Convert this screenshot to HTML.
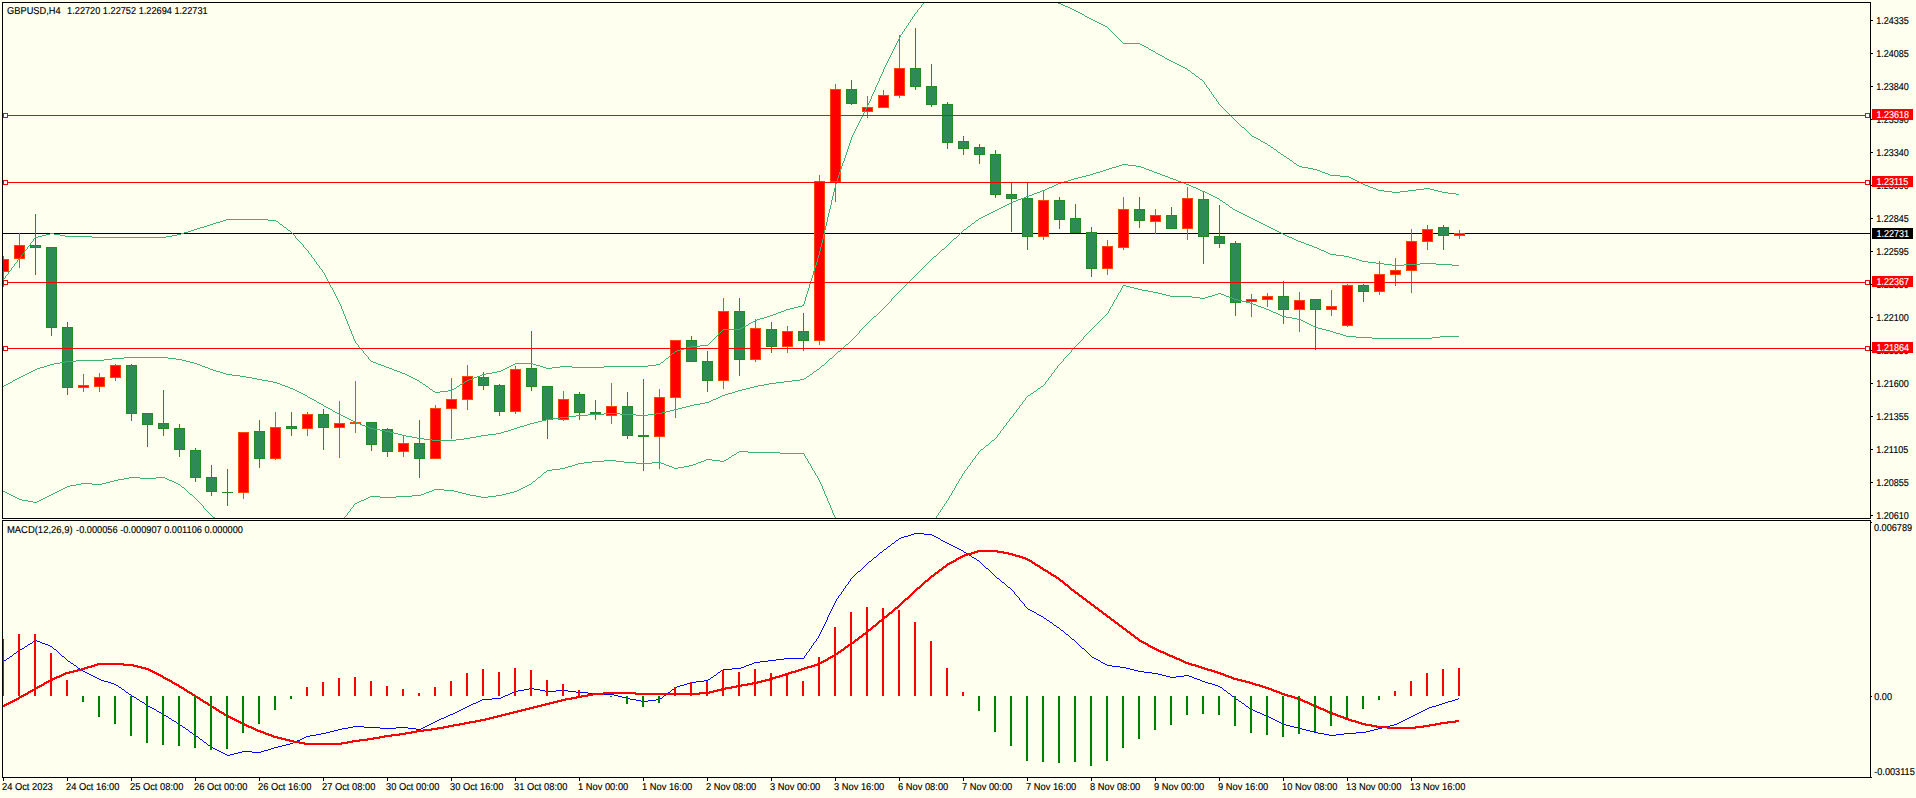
<!DOCTYPE html>
<html lang="en"><head><meta charset="utf-8"><title>GBPUSD,H4</title>
<style>
html,body{margin:0;padding:0;background:#FFFFF0;overflow:hidden}
svg{display:block}
text{font-family:"Liberation Sans",sans-serif;font-size:10px;fill:#000;stroke:#000;stroke-width:0.15px;text-rendering:geometricPrecision}
.w{fill:#fff;stroke:#fff}
</style></head><body>
<svg width="1916" height="798" viewBox="0 0 1916 798" shape-rendering="crispEdges">
<rect width="1916" height="798" fill="#FFFFF0"/>
<defs><clipPath id="cm"><rect x="3" y="3" width="1867" height="515"/></clipPath><clipPath id="cd"><rect x="3" y="521" width="1867" height="256"/></clipPath></defs>
<path fill="#000" d="M2 2h1869v1h-1869zM2 518h1869v1h-1869zM2 2h1v517h-1zM1870 2h1v517h-1zM2 520h1869v1h-1869zM2 777h1869v1h-1869zM2 520h1v258h-1zM1870 520h1v258h-1zM1871 20h2v1h-2zM1871 53h2v1h-2zM1871 86h2v1h-2zM1871 119h2v1h-2zM1871 152h2v1h-2zM1871 185h2v1h-2zM1871 218h2v1h-2zM1871 251h2v1h-2zM1871 284h2v1h-2zM1871 317h2v1h-2zM1871 350h2v1h-2zM1871 383h2v1h-2zM1871 416h2v1h-2zM1871 449h2v1h-2zM1871 482h2v1h-2zM1871 515h2v1h-2zM1871 522h1v1h-1zM1871 696h1v1h-1zM1871 777h1v1h-1zM3 778h1v3h-1zM67 778h1v3h-1zM131 778h1v3h-1zM195 778h1v3h-1zM259 778h1v3h-1zM323 778h1v3h-1zM387 778h1v3h-1zM451 778h1v3h-1zM515 778h1v3h-1zM579 778h1v3h-1zM643 778h1v3h-1zM707 778h1v3h-1zM771 778h1v3h-1zM835 778h1v3h-1zM899 778h1v3h-1zM963 778h1v3h-1zM1027 778h1v3h-1zM1091 778h1v3h-1zM1155 778h1v3h-1zM1219 778h1v3h-1zM1283 778h1v3h-1zM1347 778h1v3h-1zM1411 778h1v3h-1z"/>
<g clip-path="url(#cm)">
<path fill="#000" d="M3 233h1867v1h-1867z"/>
<path fill="#FF4500" d="M3 256h1v31h-1zM-2 259h11v13h-11zM19 233h1v35h-1zM14 245h11v14h-11zM83 374h1v18h-1zM78 385h11v3h-11zM99 373h1v19h-1zM94 377h11v10h-11zM115 364h1v17h-1zM110 365h11v13h-11zM243 432h1v67h-1zM238 432h11v61h-11zM275 412h1v48h-1zM270 427h11v32h-11zM307 412h1v24h-1zM302 414h11v15h-11zM339 401h1v57h-1zM334 423h11v5h-11zM355 381h1v52h-1zM350 422h11v2h-11zM403 436h1v21h-1zM398 443h11v9h-11zM435 405h1v54h-1zM430 408h11v51h-11zM451 378h1v61h-1zM446 399h11v10h-11zM467 365h1v45h-1zM462 376h11v24h-11zM515 366h1v48h-1zM510 369h11v43h-11zM563 391h1v30h-1zM558 399h11v21h-11zM611 383h1v41h-1zM606 406h11v10h-11zM659 389h1v80h-1zM654 397h11v40h-11zM675 340h1v78h-1zM670 340h11v58h-11zM723 298h1v91h-1zM718 311h11v70h-11zM755 319h1v43h-1zM750 328h11v32h-11zM787 326h1v27h-1zM782 331h11v16h-11zM819 175h1v170h-1zM814 181h11v160h-11zM835 84h1v118h-1zM830 89h11v93h-11zM867 96h1v22h-1zM862 107h11v5h-11zM883 90h1v18h-1zM878 95h11v13h-11zM899 35h1v63h-1zM894 68h11v28h-11zM1043 191h1v49h-1zM1038 200h11v37h-11zM1107 240h1v35h-1zM1102 246h11v23h-11zM1123 197h1v53h-1zM1118 209h11v39h-11zM1155 209h1v25h-1zM1150 215h11v7h-11zM1187 187h1v53h-1zM1182 198h11v31h-11zM1251 294h1v23h-1zM1246 299h11v3h-11zM1267 293h1v14h-1zM1262 296h11v4h-11zM1299 292h1v40h-1zM1294 300h11v10h-11zM1331 290h1v26h-1zM1326 306h11v4h-11zM1347 284h1v43h-1zM1342 285h11v41h-11zM1379 261h1v34h-1zM1374 274h11v18h-11zM1395 258h1v28h-1zM1390 270h11v5h-11zM1411 229h1v64h-1zM1406 241h11v30h-11zM1427 225h1v25h-1zM1422 229h11v13h-11zM1459 230h1v9h-1zM1454 233h11v3h-11z"/>
<path fill="#FF0000" d="M-1 260h9v11h-9zM15 246h9v12h-9zM79 386h9v1h-9zM95 378h9v8h-9zM111 366h9v11h-9zM239 433h9v59h-9zM271 428h9v30h-9zM303 415h9v13h-9zM335 424h9v3h-9zM399 444h9v7h-9zM431 409h9v49h-9zM447 400h9v8h-9zM463 377h9v22h-9zM511 370h9v41h-9zM559 400h9v19h-9zM607 407h9v8h-9zM655 398h9v38h-9zM671 341h9v56h-9zM719 312h9v68h-9zM751 329h9v30h-9zM783 332h9v14h-9zM815 182h9v158h-9zM831 90h9v91h-9zM863 108h9v3h-9zM879 96h9v11h-9zM895 69h9v26h-9zM1039 201h9v35h-9zM1103 247h9v21h-9zM1119 210h9v37h-9zM1151 216h9v5h-9zM1183 199h9v29h-9zM1247 300h9v1h-9zM1263 297h9v2h-9zM1295 301h9v8h-9zM1327 307h9v2h-9zM1343 286h9v39h-9zM1375 275h9v16h-9zM1391 271h9v3h-9zM1407 242h9v28h-9zM1423 230h9v11h-9zM1455 234h9v1h-9z"/>
<path fill="#228B22" d="M35 214h1v61h-1zM30 245h11v3h-11zM51 247h1v89h-1zM46 247h11v81h-11zM67 322h1v73h-1zM62 327h11v61h-11zM131 364h1v57h-1zM126 365h11v49h-11zM147 413h1v34h-1zM142 413h11v12h-11zM163 390h1v46h-1zM158 423h11v6h-11zM179 424h1v33h-1zM174 428h11v22h-11zM195 448h1v34h-1zM190 450h11v28h-11zM211 465h1v31h-1zM206 477h11v15h-11zM227 469h1v37h-1zM222 492h11v1h-11zM259 420h1v48h-1zM254 431h11v28h-11zM291 412h1v24h-1zM286 426h11v3h-11zM323 409h1v41h-1zM318 414h11v14h-11zM371 422h1v29h-1zM366 422h11v23h-11zM387 428h1v29h-1zM382 429h11v23h-11zM419 420h1v58h-1zM414 443h11v16h-11zM483 372h1v18h-1zM478 377h11v9h-11zM499 384h1v32h-1zM494 385h11v27h-11zM531 331h1v60h-1zM526 368h11v19h-11zM547 386h1v53h-1zM542 386h11v34h-11zM579 392h1v28h-1zM574 394h11v19h-11zM595 400h1v20h-1zM590 412h11v2h-11zM627 392h1v47h-1zM622 406h11v30h-11zM643 379h1v92h-1zM638 435h11v2h-11zM691 336h1v26h-1zM686 340h11v22h-11zM707 351h1v41h-1zM702 361h11v20h-11zM739 298h1v78h-1zM734 311h11v49h-11zM771 322h1v31h-1zM766 329h11v18h-11zM803 313h1v38h-1zM798 331h11v10h-11zM851 80h1v25h-1zM846 89h11v15h-11zM915 28h1v62h-1zM910 68h11v19h-11zM931 64h1v43h-1zM926 86h11v19h-11zM947 102h1v47h-1zM942 104h11v39h-11zM963 136h1v19h-1zM958 141h11v8h-11zM979 144h1v20h-1zM974 147h11v8h-11zM995 150h1v48h-1zM990 154h11v41h-11zM1011 183h1v49h-1zM1006 194h11v5h-11zM1027 183h1v67h-1zM1022 198h11v39h-11zM1059 197h1v32h-1zM1054 200h11v20h-11zM1075 204h1v29h-1zM1070 218h11v15h-11zM1091 227h1v50h-1zM1086 232h11v37h-11zM1139 197h1v31h-1zM1134 209h11v12h-11zM1171 207h1v22h-1zM1166 215h11v14h-11zM1203 192h1v72h-1zM1198 199h11v38h-11zM1219 205h1v43h-1zM1214 236h11v8h-11zM1235 241h1v75h-1zM1230 243h11v60h-11zM1283 281h1v43h-1zM1278 296h11v14h-11zM1315 299h1v51h-1zM1310 299h11v11h-11zM1363 284h1v18h-1zM1358 285h11v7h-11zM1443 225h1v25h-1zM1438 227h11v9h-11z"/>
<path fill="#2E8B57" d="M31 246h9v1h-9zM47 248h9v79h-9zM63 328h9v59h-9zM127 366h9v47h-9zM143 414h9v10h-9zM159 424h9v4h-9zM175 429h9v20h-9zM191 451h9v26h-9zM207 478h9v13h-9zM255 432h9v26h-9zM287 427h9v1h-9zM319 415h9v12h-9zM367 423h9v21h-9zM383 430h9v21h-9zM415 444h9v14h-9zM479 378h9v7h-9zM495 386h9v25h-9zM527 369h9v17h-9zM543 387h9v32h-9zM575 395h9v17h-9zM623 407h9v28h-9zM687 341h9v20h-9zM703 362h9v18h-9zM735 312h9v47h-9zM767 330h9v16h-9zM799 332h9v8h-9zM847 90h9v13h-9zM911 69h9v17h-9zM927 87h9v17h-9zM943 105h9v37h-9zM959 142h9v6h-9zM975 148h9v6h-9zM991 155h9v39h-9zM1007 195h9v3h-9zM1023 199h9v37h-9zM1055 201h9v18h-9zM1071 219h9v13h-9zM1087 233h9v35h-9zM1135 210h9v10h-9zM1167 216h9v12h-9zM1199 200h9v36h-9zM1215 237h9v6h-9zM1231 244h9v58h-9zM1279 297h9v12h-9zM1311 300h9v9h-9zM1359 286h9v5h-9zM1439 228h9v7h-9z"/>
<path fill="#3CB371" d="M342 309h1v2h-1zM786 309h4v1h-4zM366 355h1v1h-1zM670 355h1v1h-1zM358 345h1v2h-1zM690 346h10v1h-10zM863 113h1v2h-1zM1229 114h1v1h-1zM875 87h1v3h-1zM1208 88h1v1h-1zM887 61h1v2h-1zM1173 62h2v1h-2zM23 253h1v1h-1zM309 253h1v1h-1zM819 251h1v4h-1zM433 391h2v1h-2zM440 391h8v1h-8zM841 166h1v3h-1zM1302 167h6v1h-6zM834 188h1v4h-1zM1376 189h2v1h-2zM1416 189h8v1h-8zM1430 189h4v1h-4zM435 392h5v1h-5zM429 388h1v1h-1zM454 388h2v1h-2zM210 224h3v1h-3zM280 224h2v1h-2zM826 222h1v4h-1zM18 259h1v1h-1zM314 259h1v2h-1zM817 258h1v4h-1zM911 19h1v1h-1zM1091 19h2v1h-2zM420 382h2v1h-2zM464 382h1v1h-1zM386 367h3v1h-3zM507 367h2v1h-2zM543 367h3v1h-3zM552 367h8v1h-8zM572 367h32v1h-32zM348 324h1v2h-1zM746 325h2v1h-2zM844 158h1v3h-1zM1290 160h2v1h-2zM207 225h3v1h-3zM282 225h1v1h-1zM343 311h1v3h-1zM778 312h3v1h-3zM874 90h1v2h-1zM1209 89h1v2h-1zM46 234h4v1h-4zM54 234h6v1h-6zM177 234h4v1h-4zM293 234h1v1h-1zM823 234h1v5h-1zM837 178h1v3h-1zM1353 179h2v1h-2zM921 5h1v2h-1zM1065 6h3v1h-3zM1384 191h8v1h-8zM1400 191h8v1h-8zM1438 191h4v1h-4zM882 72h1v2h-1zM1191 72h1v1h-1zM223 220h3v1h-3zM268 220h8v1h-8zM827 217h1v5h-1zM850 140h1v3h-1zM1263 142h2v1h-2zM845 155h1v3h-1zM1283 155h1v1h-1zM835 184h1v4h-1zM1363 184h2v1h-2zM1355 180h2v1h-2zM376 363h2v1h-2zM515 363h18v1h-18zM660 363h1v1h-1zM860 119h1v2h-1zM1234 119h1v1h-1zM838 175h1v3h-1zM1340 176h9v1h-9zM871 96h1v3h-1zM1213 95h1v2h-1zM923 3h1v1h-1zM1058 3h3v1h-3zM28 246h1v1h-1zM303 245h1v2h-1zM821 243h1v4h-1zM849 143h1v3h-1zM1265 143h2v1h-2zM25 250h1v1h-1zM307 250h1v1h-1zM820 247h1v4h-1zM1235 120h1v1h-1zM226 219h42v1h-42zM907 25h1v1h-1zM1103 25h2v1h-2zM896 43h1v2h-1zM1123 43h17v1h-17zM902 32h1v2h-1zM1112 32h1v1h-1zM384 366h2v1h-2zM509 366h2v1h-2zM540 366h3v1h-3zM560 366h12v1h-12zM604 366h44v1h-44zM332 288h1v2h-1zM808 288h1v3h-1zM50 233h4v1h-4zM181 233h3v1h-3zM292 233h1v1h-1zM824 230h1v4h-1zM898 39h1v2h-1zM1119 39h1v1h-1zM862 115h1v2h-1zM1231 116h1v1h-1zM781 311h3v1h-3zM905 28h1v1h-1zM1108 28h1v1h-1zM200 227h4v1h-4zM284 227h2v1h-2zM825 226h1v4h-1zM886 63h1v2h-1zM1177 64h2v1h-2zM419 381h1v1h-1zM465 381h2v1h-2zM38 236h4v1h-4zM65 236h27v1h-27zM166 236h6v1h-6zM295 236h1v2h-1zM846 152h1v3h-1zM1278 152h2v1h-2zM425 385h1v1h-1zM459 385h1v1h-1zM842 163h1v3h-1zM1297 165h2v1h-2zM220 221h3v1h-3zM276 221h2v1h-2zM858 123h1v2h-1zM1238 123h1v1h-1zM347 321h1v3h-1zM751 322h2v1h-2zM216 222h4v1h-4zM278 222h1v1h-1zM22 254h1v1h-1zM310 254h1v1h-1zM833 192h1v4h-1zM1456 194h3v1h-3zM35 237h3v1h-3zM92 237h74v1h-74zM828 213h1v4h-1zM21 255h1v2h-1zM311 255h1v2h-1zM818 255h1v3h-1zM402 373h3v1h-3zM486 373h6v1h-6zM17 260h1v2h-1zM345 316h1v3h-1zM764 317h3v1h-3zM353 336h1v3h-1zM715 337h1v1h-1zM852 135h1v2h-1zM1252 136h2v1h-2zM6 275h1v1h-1zM325 275h1v2h-1zM812 275h1v3h-1zM368 357h1v2h-1zM666 358h2v1h-2zM839 172h1v3h-1zM1322 172h3v1h-3zM1308 168h5v1h-5zM840 169h1v3h-1zM1313 169h4v1h-4zM333 290h1v2h-1zM807 291h1v3h-1zM873 92h1v2h-1zM1211 92h1v2h-1zM394 370h3v1h-3zM501 370h2v1h-2zM897 41h1v2h-1zM1121 41h1v1h-1zM910 20h1v2h-1zM1095 21h2v1h-2zM411 377h2v1h-2zM474 377h3v1h-3zM885 65h1v2h-1zM1181 66h2v1h-2zM1299 166h3v1h-3zM847 149h1v3h-1zM1274 149h2v1h-2zM843 161h1v2h-1zM1293 162h1v1h-1zM413 378h2v1h-2zM472 378h2v1h-2zM405 374h2v1h-2zM482 374h4v1h-4zM881 74h1v2h-1zM1194 74h1v1h-1zM857 125h1v2h-1zM1240 125h1v1h-1zM361 349h1v1h-1zM680 349h4v1h-4zM854 131h1v2h-1zM1248 132h1v1h-1zM350 329h1v2h-1zM723 329h17v1h-17zM191 230h3v1h-3zM288 230h2v1h-2zM859 121h1v2h-1zM1237 122h1v1h-1zM3 279h1v1h-1zM327 279h1v2h-1zM811 278h1v3h-1zM1325 173h3v1h-3zM1320 171h2v1h-2zM337 298h1v2h-1zM805 297h1v4h-1zM397 371h3v1h-3zM497 371h4v1h-4zM1277 151h1v1h-1zM913 16h1v1h-1zM1085 16h2v1h-2zM836 181h1v3h-1zM1359 182h2v1h-2zM1268 145h2v1h-2zM1287 158h2v1h-2zM20 257h1v1h-1zM312 257h1v1h-1zM848 146h1v3h-1zM1270 146h1v1h-1zM1289 159h1v1h-1zM19 258h1v1h-1zM313 258h1v1h-1zM1261 141h2v1h-2zM356 343h1v1h-1zM709 343h1v1h-1zM328 281h1v2h-1zM810 281h1v3h-1zM700 345h8v1h-8zM1251 135h1v1h-1zM1378 190h6v1h-6zM1408 190h8v1h-8zM1434 190h4v1h-4zM370 360h1v1h-1zM664 360h1v1h-1zM8 272h1v2h-1zM324 273h1v2h-1zM813 271h1v4h-1zM341 306h1v3h-1zM790 308h4v1h-4zM889 57h1v2h-1zM1165 58h2v1h-2zM338 300h1v2h-1zM381 365h3v1h-3zM511 365h2v1h-2zM536 365h4v1h-4zM648 365h8v1h-8zM371 361h2v1h-2zM663 361h1v1h-1zM716 336h1v1h-1zM912 17h1v2h-1zM1089 18h2v1h-2zM872 94h1v2h-1zM29 245h1v1h-1zM851 137h1v3h-1zM1256 138h2v1h-2zM354 339h1v2h-1zM713 339h1v1h-1zM869 101h1v2h-1zM1217 101h1v1h-1zM1365 185h3v1h-3zM1448 193h8v1h-8zM853 133h1v2h-1zM1250 134h1v1h-1zM11 268h1v2h-1zM320 268h1v1h-1zM814 268h1v3h-1zM1292 161h1v1h-1zM329 283h1v2h-1zM809 284h1v4h-1zM903 31h1v1h-1zM1111 31h1v1h-1zM432 390h1v1h-1zM448 390h4v1h-4zM213 223h3v1h-3zM279 223h1v1h-1zM908 23h1v2h-1zM1101 24h2v1h-2zM351 331h1v3h-1zM720 332h1v1h-1zM197 228h3v1h-3zM286 228h1v1h-1zM1271 147h2v1h-2zM409 376h2v1h-2zM477 376h3v1h-3zM188 231h3v1h-3zM290 231h1v1h-1zM323 272h1v1h-1zM1179 65h2v1h-2zM1171 61h2v1h-2zM1330 175h10v1h-10zM336 296h1v2h-1zM806 294h1v3h-1zM42 235h4v1h-4zM60 235h5v1h-5zM172 235h5v1h-5zM294 235h1v1h-1zM776 313h2v1h-2zM1215 98h1v1h-1zM877 83h1v2h-1zM1205 84h1v1h-1zM378 364h3v1h-3zM513 364h2v1h-2zM533 364h3v1h-3zM656 364h4v1h-4zM922 4h1v1h-1zM1061 4h2v1h-2zM894 47h1v2h-1zM1148 48h1v1h-1zM1267 144h1v1h-1zM868 103h1v2h-1zM1219 104h1v1h-1zM870 99h1v2h-1zM1216 99h1v2h-1zM1192 73h2v1h-2zM4 278h1v1h-1zM326 277h1v2h-1zM1392 192h8v1h-8zM1442 192h6v1h-6zM712 340h1v1h-1zM1317 170h3v1h-3zM904 29h1v2h-1zM1110 30h1v1h-1zM16 262h1v1h-1zM316 262h1v2h-1zM816 262h1v3h-1zM1281 154h2v1h-2zM33 239h1v2h-1zM297 239h1v1h-1zM822 239h1v4h-1zM362 350h1v1h-1zM677 350h3v1h-3zM1218 102h1v2h-1zM856 127h1v2h-1zM1244 128h1v1h-1zM1254 137h2v1h-2zM893 49h1v2h-1zM1151 50h2v1h-2zM13 266h1v1h-1zM319 266h1v2h-1zM815 265h1v3h-1zM389 368h3v1h-3zM505 368h2v1h-2zM546 368h6v1h-6zM865 109h1v2h-1zM1224 109h1v1h-1zM1204 82h1v2h-1zM1164 57h1v1h-1zM24 251h1v2h-1zM308 251h1v2h-1zM832 196h1v4h-1zM917 10h1v2h-1zM1076 11h2v1h-2zM878 81h1v2h-1zM1203 81h1v1h-1zM784 310h2v1h-2zM1087 17h2v1h-2zM1099 23h2v1h-2zM884 67h1v2h-1zM1183 67h2v1h-2zM415 379h2v1h-2zM469 379h3v1h-3zM1207 87h1v1h-1zM1185 68h2v1h-2zM888 59h1v2h-1zM1169 60h2v1h-2zM1296 164h1v1h-1zM400 372h2v1h-2zM492 372h5v1h-5zM349 326h1v3h-1zM744 326h2v1h-2zM392 369h2v1h-2zM503 369h2v1h-2zM890 55h1v2h-1zM1162 56h2v1h-2zM355 341h1v2h-1zM710 342h1v1h-1zM892 51h1v2h-1zM1155 52h1v1h-1zM365 354h1v1h-1zM671 354h1v1h-1zM1328 174h2v1h-2zM864 111h1v2h-1zM1226 111h1v1h-1zM876 85h1v2h-1zM1206 85h1v2h-1zM1167 59h2v1h-2zM1093 20h2v1h-2zM1113 33h1v1h-1zM880 76h1v2h-1zM1198 77h1v1h-1zM879 78h1v3h-1zM1199 78h1v1h-1zM9 271h1v1h-1zM322 270h1v2h-1zM916 12h1v1h-1zM1078 12h2v1h-2zM1273 148h1v1h-1zM855 129h1v2h-1zM1246 130h1v1h-1zM1370 187h3v1h-3zM1247 131h1v1h-1zM364 353h1v1h-1zM672 353h2v1h-2zM760 318h4v1h-4zM373 362h3v1h-3zM661 362h2v1h-2zM1210 91h1v1h-1zM719 333h1v1h-1zM359 347h1v1h-1zM687 347h3v1h-3zM830 205h1v4h-1zM31 242h1v1h-1zM300 242h1v1h-1zM1239 124h1v1h-1zM749 323h2v1h-2zM1357 181h2v1h-2zM1349 177h2v1h-2zM1260 140h1v1h-1zM1351 178h2v1h-2zM1242 127h2v1h-2zM357 344h1v1h-1zM708 344h1v1h-1zM334 292h1v2h-1zM753 321h2v1h-2zM1200 79h2v1h-2zM883 69h1v3h-1zM1190 71h1v1h-1zM1241 126h1v1h-1zM1280 153h1v1h-1zM1175 63h2v1h-2zM798 306h4v1h-4zM1249 133h1v1h-1zM1074 10h2v1h-2zM906 26h1v2h-1zM1107 27h1v1h-1zM914 14h1v2h-1zM1084 15h1v1h-1zM1196 76h2v1h-2zM315 261h1v1h-1zM714 338h1v1h-1zM344 314h1v2h-1zM770 315h3v1h-3zM1153 51h2v1h-2zM1373 188h3v1h-3zM1424 188h6v1h-6zM804 301h1v3h-1zM721 331h1v1h-1zM335 294h1v2h-1zM5 276h1v2h-1zM861 117h1v2h-1zM1232 117h1v1h-1zM204 226h3v1h-3zM283 226h1v1h-1zM742 327h2v1h-2zM773 314h3v1h-3zM1284 156h2v1h-2zM1368 186h2v1h-2zM423 384h2v1h-2zM460 384h2v1h-2zM1258 139h2v1h-2zM740 328h2v1h-2zM321 269h1v1h-1zM895 45h1v2h-1zM1142 45h2v1h-2zM407 375h2v1h-2zM480 375h2v1h-2zM330 285h1v2h-1zM1109 29h1v1h-1zM900 35h1v2h-1zM1115 35h1v1h-1zM831 200h1v5h-1zM1212 94h1v1h-1zM1187 69h1v1h-1zM27 247h1v2h-1zM305 248h1v1h-1zM12 267h1v1h-1zM1105 26h2v1h-2zM909 22h1v1h-1zM1097 22h2v1h-2zM899 37h1v2h-1zM1117 37h1v1h-1zM34 238h1v1h-1zM296 238h1v1h-1zM1202 80h1v1h-1zM1294 163h2v1h-2zM1188 70h2v1h-2zM722 330h1v1h-1zM1160 55h2v1h-2zM794 307h4v1h-4zM15 263h1v1h-1zM915 13h1v1h-1zM1080 13h2v1h-2zM298 240h1v1h-1zM14 264h1v2h-1zM317 264h1v1h-1zM318 265h1v1h-1zM1063 5h2v1h-2zM1149 49h2v1h-2zM1225 110h1v1h-1zM1140 44h2v1h-2zM1118 38h1v1h-1zM767 316h3v1h-3zM194 229h3v1h-3zM287 229h1v1h-1zM32 241h1v1h-1zM299 241h1v1h-1zM184 232h4v1h-4zM291 232h1v1h-1zM1227 112h1v1h-1zM352 334h1v2h-1zM717 335h1v1h-1zM891 53h1v2h-1zM1158 54h2v1h-2zM331 287h1v1h-1zM417 380h2v1h-2zM467 380h2v1h-2zM1082 14h2v1h-2zM1120 40h1v1h-1zM1236 121h1v1h-1zM1195 75h1v1h-1zM867 105h1v2h-1zM1220 105h1v1h-1zM920 7h1v1h-1zM1068 7h2v1h-2zM428 387h1v1h-1zM456 387h1v1h-1zM1146 47h2v1h-2zM430 389h2v1h-2zM452 389h2v1h-2zM340 304h1v2h-1zM802 305h2v1h-2zM829 209h1v4h-1zM10 270h1v1h-1zM1156 53h2v1h-2zM422 383h1v1h-1zM462 383h2v1h-2zM866 107h1v2h-1zM1222 107h1v1h-1zM1223 108h1v1h-1zM360 348h1v1h-1zM684 348h3v1h-3zM901 34h1v1h-1zM1114 34h1v1h-1zM668 357h1v1h-1zM339 302h1v2h-1zM1233 118h1v1h-1zM918 9h1v1h-1zM1072 9h2v1h-2zM346 319h1v2h-1zM757 319h3v1h-3zM718 334h1v1h-1zM1116 36h1v1h-1zM30 243h1v2h-1zM301 243h1v1h-1zM7 274h1v1h-1zM363 351h1v2h-1zM674 352h1v1h-1zM803 304h1v1h-1zM1214 97h1v1h-1zM1122 42h1v1h-1zM919 8h1v1h-1zM1070 8h2v1h-2zM304 247h1v1h-1zM367 356h1v1h-1zM669 356h1v1h-1zM1361 183h2v1h-2zM1245 129h1v1h-1zM1144 46h2v1h-2zM748 324h1v1h-1zM675 351h2v1h-2zM1221 106h1v1h-1zM755 320h2v1h-2zM1228 113h1v1h-1zM26 249h1v1h-1zM306 249h1v1h-1zM369 359h1v1h-1zM665 359h1v1h-1zM1286 157h1v1h-1zM1230 115h1v1h-1zM302 244h1v1h-1zM426 386h2v1h-2zM457 386h2v1h-2zM1276 150h1v1h-1zM711 341h1v1h-1z"/>
<path fill="#3CB371" d="M362 425h3v1h-3zM524 425h3v1h-3zM324 406h2v1h-2zM686 406h4v1h-4zM124 357h44v1h-44zM832 357h1v1h-1zM1112 167h4v1h-4zM1141 167h3v1h-3zM339 414h2v1h-2zM588 414h16v1h-16zM620 414h16v1h-16zM648 414h8v1h-8zM337 413h2v1h-2zM604 413h16v1h-16zM656 413h6v1h-6zM432 440h24v1h-24zM877 314h1v1h-1zM1021 198h3v1h-3zM1217 198h2v1h-2zM1096 172h4v1h-4zM1154 172h3v1h-3zM1032 194h2v1h-2zM1209 194h2v1h-2zM65 361h11v1h-11zM186 361h4v1h-4zM827 361h1v1h-1zM330 409h2v1h-2zM674 409h4v1h-4zM1040 191h2v1h-2zM1202 191h3v1h-3zM972 223h2v1h-2zM1261 223h2v1h-2zM319 403h2v1h-2zM700 403h5v1h-5zM76 360h28v1h-28zM182 360h4v1h-4zM828 360h1v1h-1zM6 384h2v1h-2zM280 384h2v1h-2zM764 384h5v1h-5zM390 432h4v1h-4zM501 432h3v1h-3zM335 412h2v1h-2zM662 412h4v1h-4zM1082 176h4v1h-4zM1165 176h3v1h-3zM374 429h6v1h-6zM511 429h3v1h-3zM946 246h1v1h-1zM1312 246h2v1h-2zM3 386h1v1h-1zM285 386h3v1h-3zM754 386h4v1h-4zM29 372h2v1h-2zM220 372h3v1h-3zM813 372h1v1h-1zM365 426h3v1h-3zM520 426h4v1h-4zM323 405h1v1h-1zM690 405h4v1h-4zM343 416h2v1h-2zM568 416h8v1h-8zM10 382h2v1h-2zM273 382h4v1h-4zM776 382h8v1h-8zM884 307h1v1h-1zM385 431h5v1h-5zM504 431h4v1h-4zM925 265h1v1h-1zM1392 265h12v1h-12zM1452 265h7v1h-7zM1071 179h3v1h-3zM1173 179h3v1h-3zM927 263h1v1h-1zM1376 263h8v1h-8zM1420 263h16v1h-16zM937 254h1v1h-1zM1330 254h6v1h-6zM991 212h2v1h-2zM1239 212h2v1h-2zM999 208h2v1h-2zM1232 208h1v1h-1zM50 364h4v1h-4zM197 364h3v1h-3zM824 364h1v1h-1zM981 217h2v1h-2zM1249 217h2v1h-2zM837 352h1v1h-1zM398 434h4v1h-4zM488 434h8v1h-8zM293 389h2v1h-2zM742 389h4v1h-4zM1061 182h3v1h-3zM1181 182h3v1h-3zM402 435h4v1h-4zM481 435h7v1h-7zM25 374h2v1h-2zM226 374h6v1h-6zM810 374h2v1h-2zM953 239h1v1h-1zM1294 239h2v1h-2zM8 383h2v1h-2zM277 383h3v1h-3zM769 383h7v1h-7zM1029 195h3v1h-3zM1211 195h2v1h-2zM310 398h2v1h-2zM716 398h2v1h-2zM891 299h1v2h-1zM299 392h2v1h-2zM732 392h3v1h-3zM44 366h3v1h-3zM202 366h3v1h-3zM821 366h1v1h-1zM844 346h1v1h-1zM13 380h2v1h-2zM262 380h6v1h-6zM792 380h8v1h-8zM1078 177h4v1h-4zM1168 177h2v1h-2zM936 255h1v1h-1zM1336 255h8v1h-8zM307 396h1v1h-1zM720 396h2v1h-2zM1007 204h2v1h-2zM1226 204h2v1h-2zM1005 205h2v1h-2zM1228 205h1v1h-1zM1116 166h3v1h-3zM1136 166h5v1h-5zM60 362h5v1h-5zM190 362h4v1h-4zM826 362h1v1h-1zM312 399h2v1h-2zM713 399h3v1h-3zM21 376h2v1h-2zM240 376h6v1h-6zM807 376h2v1h-2zM394 433h4v1h-4zM496 433h5v1h-5zM951 241h1v1h-1zM1298 241h3v1h-3zM956 237h1v1h-1zM1289 237h3v1h-3zM305 395h2v1h-2zM722 395h3v1h-3zM297 391h2v1h-2zM735 391h3v1h-3zM17 378h2v1h-2zM252 378h5v1h-5zM804 378h2v1h-2zM1064 181h4v1h-4zM1178 181h3v1h-3zM47 365h3v1h-3zM200 365h2v1h-2zM822 365h2v1h-2zM341 415h2v1h-2zM576 415h12v1h-12zM636 415h12v1h-12zM290 388h3v1h-3zM746 388h4v1h-4zM932 258h1v1h-1zM1352 258h4v1h-4zM424 439h8v1h-8zM456 439h8v1h-8zM964 229h2v1h-2zM1273 229h2v1h-2zM1049 187h3v1h-3zM1193 187h3v1h-3zM33 370h2v1h-2zM213 370h3v1h-3zM816 370h1v1h-1zM1106 169h3v1h-3zM1146 169h3v1h-3zM308 397h2v1h-2zM718 397h2v1h-2zM12 381h1v1h-1zM268 381h5v1h-5zM784 381h8v1h-8zM989 213h2v1h-2zM1241 213h2v1h-2zM997 209h2v1h-2zM1233 209h2v1h-2zM1024 197h2v1h-2zM1215 197h2v1h-2zM1034 193h3v1h-3zM1207 193h2v1h-2zM1119 165h3v1h-3zM1128 165h8v1h-8zM850 341h1v1h-1zM353 421h2v1h-2zM538 421h4v1h-4zM1018 199h3v1h-3zM1219 199h1v1h-1zM321 404h2v1h-2zM694 404h6v1h-6zM112 358h12v1h-12zM168 358h8v1h-8zM830 358h2v1h-2zM1086 175h4v1h-4zM1162 175h3v1h-3zM326 407h2v1h-2zM682 407h4v1h-4zM1009 203h2v1h-2zM1225 203h1v1h-1zM941 250h1v1h-1zM1321 250h3v1h-3zM1003 206h2v1h-2zM1229 206h1v1h-1zM360 424h2v1h-2zM527 424h3v1h-3zM857 334h1v1h-1zM1001 207h2v1h-2zM1230 207h2v1h-2zM945 247h1v1h-1zM1314 247h3v1h-3zM347 418h2v1h-2zM552 418h8v1h-8zM332 410h1v1h-1zM670 410h4v1h-4zM926 264h1v1h-1zM1384 264h8v1h-8zM1404 264h16v1h-16zM1436 264h16v1h-16zM974 222h1v1h-1zM1259 222h2v1h-2zM406 436h6v1h-6zM476 436h5v1h-5zM933 257h1v1h-1zM1349 257h3v1h-3zM412 437h5v1h-5zM470 437h6v1h-6zM1074 178h4v1h-4zM1170 178h3v1h-3zM345 417h2v1h-2zM560 417h8v1h-8zM876 315h1v1h-1zM1068 180h3v1h-3zM1176 180h2v1h-2zM104 359h8v1h-8zM176 359h6v1h-6zM829 359h1v1h-1zM368 427h2v1h-2zM517 427h3v1h-3zM303 394h2v1h-2zM725 394h3v1h-3zM295 390h2v1h-2zM738 390h4v1h-4zM19 377h2v1h-2zM246 377h6v1h-6zM806 377h1v1h-1zM1026 196h3v1h-3zM1213 196h2v1h-2zM1058 183h3v1h-3zM1184 183h2v1h-2zM930 260h1v1h-1zM1359 260h3v1h-3zM288 387h2v1h-2zM750 387h4v1h-4zM952 240h1v1h-1zM1296 240h2v1h-2zM957 236h1v1h-1zM1287 236h2v1h-2zM15 379h2v1h-2zM257 379h5v1h-5zM800 379h4v1h-4zM960 233h1v1h-1zM1281 233h2v1h-2zM40 367h4v1h-4zM205 367h3v1h-3zM820 367h1v1h-1zM883 308h1v1h-1zM417 438h7v1h-7zM464 438h6v1h-6zM979 218h2v1h-2zM1251 218h2v1h-2zM836 353h1v1h-1zM1016 200h2v1h-2zM1220 200h2v1h-2zM958 235h1v1h-1zM1285 235h2v1h-2zM1037 192h3v1h-3zM1205 192h2v1h-2zM54 363h6v1h-6zM194 363h3v1h-3zM825 363h1v1h-1zM895 295h1v1h-1zM910 280h1v1h-1zM1045 189h2v1h-2zM1198 189h2v1h-2zM929 261h1v1h-1zM1362 261h6v1h-6zM949 243h1v1h-1zM1304 243h2v1h-2zM843 347h1v1h-1zM27 373h2v1h-2zM223 373h3v1h-3zM812 373h1v1h-1zM370 428h4v1h-4zM514 428h3v1h-3zM938 253h1v1h-1zM1328 253h2v1h-2zM917 273h1v1h-1zM995 210h2v1h-2zM1235 210h2v1h-2zM328 408h2v1h-2zM678 408h4v1h-4zM914 276h1v1h-1zM316 401h1v1h-1zM709 401h2v1h-2zM934 256h2v1h-2zM1344 256h5v1h-5zM963 230h1v1h-1zM1275 230h2v1h-2zM921 269h1v1h-1zM987 214h2v1h-2zM1243 214h2v1h-2zM314 400h2v1h-2zM711 400h2v1h-2zM869 321h1v1h-1zM971 224h1v1h-1zM1263 224h2v1h-2zM928 262h1v1h-1zM1368 262h8v1h-8zM966 228h1v1h-1zM1271 228h2v1h-2zM4 385h2v1h-2zM282 385h3v1h-3zM758 385h6v1h-6zM357 423h3v1h-3zM530 423h4v1h-4zM873 317h1v1h-1zM23 375h2v1h-2zM232 375h8v1h-8zM809 375h1v1h-1zM1122 164h6v1h-6zM1047 188h2v1h-2zM1196 188h2v1h-2zM1056 184h2v1h-2zM1186 184h3v1h-3zM301 393h2v1h-2zM728 393h4v1h-4zM889 302h1v1h-1zM380 430h5v1h-5zM508 430h3v1h-3zM942 249h2v1h-2zM1319 249h2v1h-2zM939 252h1v1h-1zM1326 252h2v1h-2zM1090 174h3v1h-3zM1160 174h2v1h-2zM1100 171h3v1h-3zM1152 171h2v1h-2zM1103 170h3v1h-3zM1149 170h3v1h-3zM851 340h1v1h-1zM317 402h2v1h-2zM705 402h4v1h-4zM349 419h2v1h-2zM546 419h6v1h-6zM333 411h2v1h-2zM666 411h4v1h-4zM848 343h1v1h-1zM959 234h1v1h-1zM1283 234h2v1h-2zM863 327h1v1h-1zM355 422h2v1h-2zM534 422h4v1h-4zM37 368h3v1h-3zM208 368h2v1h-2zM819 368h1v1h-1zM1011 202h2v1h-2zM1223 202h2v1h-2zM855 336h1v1h-1zM1042 190h3v1h-3zM1200 190h2v1h-2zM1093 173h3v1h-3zM1157 173h3v1h-3zM870 320h1v1h-1zM931 259h1v1h-1zM1356 259h3v1h-3zM968 226h2v1h-2zM1267 226h2v1h-2zM31 371h2v1h-2zM216 371h4v1h-4zM814 371h2v1h-2zM35 369h2v1h-2zM210 369h3v1h-3zM817 369h2v1h-2zM993 211h2v1h-2zM1237 211h2v1h-2zM881 310h1v1h-1zM896 294h1v1h-1zM834 355h1v1h-1zM978 219h1v1h-1zM1253 219h2v1h-2zM950 242h1v1h-1zM1301 242h3v1h-3zM888 303h1v1h-1zM947 245h1v1h-1zM1309 245h3v1h-3zM903 287h1v1h-1zM900 290h1v1h-1zM915 275h1v1h-1zM954 238h2v1h-2zM1292 238h2v1h-2zM1052 186h2v1h-2zM1191 186h2v1h-2zM907 283h1v1h-1zM962 231h1v1h-1zM1277 231h2v1h-2zM967 227h1v1h-1zM1269 227h2v1h-2zM922 268h1v1h-1zM961 232h1v1h-1zM1279 232h2v1h-2zM846 344h2v1h-2zM862 328h1v1h-1zM859 331h1v2h-1zM940 251h1v1h-1zM1324 251h2v1h-2zM854 337h1v1h-1zM874 316h2v1h-2zM866 324h1v1h-1zM1109 168h3v1h-3zM1144 168h2v1h-2zM882 309h1v1h-1zM975 221h1v1h-1zM1257 221h2v1h-2zM842 348h1v1h-1zM351 420h2v1h-2zM542 420h4v1h-4zM833 356h1v1h-1zM892 298h1v1h-1zM840 350h1v1h-1zM985 215h2v1h-2zM1245 215h2v1h-2zM899 291h1v1h-1zM856 335h1v1h-1zM911 279h1v1h-1zM868 322h1v1h-1zM970 225h1v1h-1zM1265 225h2v1h-2zM918 272h1v1h-1zM835 354h1v1h-1zM894 296h1v1h-1zM1054 185h2v1h-2zM1189 185h2v1h-2zM948 244h1v1h-1zM1306 244h3v1h-3zM901 289h1v1h-1zM1013 201h3v1h-3zM1222 201h1v1h-1zM908 282h1v1h-1zM841 349h1v1h-1zM912 278h1v1h-1zM845 345h1v1h-1zM860 330h1v1h-1zM852 339h1v1h-1zM867 323h1v1h-1zM944 248h1v1h-1zM1317 248h2v1h-2zM976 220h2v1h-2zM1255 220h2v1h-2zM871 319h1v1h-1zM887 304h1v1h-1zM893 297h1v1h-1zM885 306h1v1h-1zM838 351h2v1h-2zM897 293h1v1h-1zM983 216h2v1h-2zM1247 216h2v1h-2zM849 342h1v1h-1zM904 286h1v1h-1zM919 271h1v1h-1zM861 329h1v1h-1zM853 338h1v1h-1zM923 267h1v1h-1zM879 312h1v1h-1zM906 284h1v1h-1zM886 305h1v1h-1zM913 277h1v1h-1zM920 270h1v1h-1zM865 325h1v1h-1zM924 266h1v1h-1zM872 318h1v1h-1zM898 292h1v1h-1zM878 313h1v1h-1zM890 301h1v1h-1zM905 285h1v1h-1zM902 288h1v1h-1zM909 281h1v1h-1zM858 333h1v1h-1zM916 274h1v1h-1zM864 326h1v1h-1zM880 311h1v1h-1z"/>
<path fill="#3CB371" d="M67 486h3v1h-3zM181 486h1v1h-1zM525 486h2v1h-2zM822 486h1v3h-1zM955 486h1v2h-1zM1083 337h1v2h-1zM1372 338h60v1h-60zM1006 423h1v2h-1zM5 492h2v1h-2zM55 492h2v1h-2zM188 492h1v1h-1zM426 492h3v1h-3zM458 492h4v1h-4zM510 492h4v1h-4zM824 491h1v3h-1zM952 491h1v2h-1zM1117 295h1v2h-1zM1166 295h4v1h-4zM1212 295h3v1h-3zM1224 295h2v1h-2zM592 461h12v1h-12zM616 461h8v1h-8zM701 461h3v1h-3zM720 461h4v1h-4zM808 461h1v2h-1zM972 460h1v2h-1zM114 480h4v1h-4zM169 480h3v1h-3zM535 480h1v1h-1zM819 480h1v2h-1zM959 479h1v2h-1zM1090 330h1v1h-1zM1326 330h4v1h-4zM3 491h2v1h-2zM57 491h2v1h-2zM187 491h1v1h-1zM429 491h3v1h-3zM454 491h4v1h-4zM514 491h3v1h-3zM737 452h2v1h-2zM748 452h32v1h-32zM978 452h1v2h-1zM28 501h5v1h-5zM37 501h2v1h-2zM198 501h1v1h-1zM359 501h2v1h-2zM828 501h1v2h-1zM946 501h1v2h-1zM124 478h5v1h-5zM140 478h16v1h-16zM165 478h2v1h-2zM537 478h1v1h-1zM818 478h1v2h-1zM960 478h1v1h-1zM1057 366h1v2h-1zM1084 336h1v1h-1zM1346 336h10v1h-10zM1440 336h19v1h-19zM560 468h5v1h-5zM674 468h4v1h-4zM812 468h1v2h-1zM967 467h1v2h-1zM578 463h6v1h-6zM636 463h16v1h-16zM661 463h3v1h-3zM696 463h2v1h-2zM809 463h1v1h-1zM970 463h1v2h-1zM208 512h1v1h-1zM348 512h1v1h-1zM832 510h1v3h-1zM939 512h1v1h-1zM1116 297h1v2h-1zM1200 298h5v1h-5zM1232 298h2v1h-2zM997 435h1v2h-1zM110 481h4v1h-4zM172 481h2v1h-2zM533 481h2v1h-2zM958 481h1v2h-1zM1101 319h1v1h-1zM1297 319h4v1h-4zM584 462h8v1h-8zM624 462h12v1h-12zM652 462h9v1h-9zM698 462h3v1h-3zM971 462h1v1h-1zM544 472h2v1h-2zM814 471h1v2h-1zM964 471h1v2h-1zM994 439h1v1h-1zM13 496h2v1h-2zM47 496h2v1h-2zM193 496h1v1h-1zM370 496h10v1h-10zM396 496h16v1h-16zM476 496h5v1h-5zM488 496h8v1h-8zM826 496h1v2h-1zM949 496h1v2h-1zM1069 353h1v1h-1zM736 453h1v1h-1zM780 453h24v1h-24zM568 466h4v1h-4zM669 466h3v1h-3zM684 466h5v1h-5zM811 466h1v2h-1zM968 466h1v1h-1zM604 460h12v1h-12zM704 460h2v1h-2zM712 460h8v1h-8zM724 460h2v1h-2zM807 459h1v2h-1zM7 493h2v1h-2zM53 493h2v1h-2zM189 493h1v1h-1zM424 493h2v1h-2zM462 493h4v1h-4zM506 493h4v1h-4zM951 493h1v2h-1zM565 467h3v1h-3zM672 467h2v1h-2zM678 467h6v1h-6zM1087 333h1v1h-1zM1336 333h4v1h-4zM129 477h11v1h-11zM156 477h9v1h-9zM538 477h2v1h-2zM817 476h1v2h-1zM961 476h1v2h-1zM1109 309h1v2h-1zM1266 309h3v1h-3zM15 497h2v1h-2zM45 497h2v1h-2zM194 497h1v1h-1zM368 497h2v1h-2zM380 497h16v1h-16zM481 497h7v1h-7zM76 484h5v1h-5zM92 484h10v1h-10zM178 484h2v1h-2zM529 484h2v1h-2zM821 484h1v2h-1zM956 484h1v2h-1zM19 499h3v1h-3zM41 499h2v1h-2zM196 499h1v1h-1zM364 499h2v1h-2zM827 498h1v3h-1zM948 498h1v2h-1zM1115 299h1v1h-1zM1234 299h4v1h-4zM1056 368h1v1h-1zM9 494h2v1h-2zM51 494h2v1h-2zM190 494h2v1h-2zM421 494h3v1h-3zM466 494h4v1h-4zM502 494h4v1h-4zM825 494h1v2h-1zM1097 323h1v1h-1zM1307 323h2v1h-2zM65 487h2v1h-2zM182 487h2v1h-2zM523 487h2v1h-2zM207 511h1v1h-1zM349 511h1v1h-1zM940 510h1v2h-1zM1100 320h1v1h-1zM1301 320h2v1h-2zM1051 374h1v2h-1zM61 489h2v1h-2zM185 489h1v1h-1zM434 489h10v1h-10zM519 489h2v1h-2zM823 489h1v2h-1zM954 488h1v2h-1zM1356 337h16v1h-16zM1432 337h8v1h-8zM213 517h2v1h-2zM344 517h1v1h-1zM835 517h1v1h-1zM936 516h1v2h-1zM81 483h11v1h-11zM102 483h4v1h-4zM176 483h2v1h-2zM531 483h1v1h-1zM820 482h1v2h-1zM957 483h1v1h-1zM106 482h4v1h-4zM174 482h2v1h-2zM532 482h1v1h-1zM1269 310h2v1h-2zM17 498h2v1h-2zM43 498h2v1h-2zM195 498h1v1h-1zM366 498h2v1h-2zM1044 384h1v1h-1zM729 457h2v1h-2zM805 456h1v2h-1zM975 456h1v2h-1zM575 464h3v1h-3zM664 464h2v1h-2zM693 464h3v1h-3zM810 464h1v2h-1zM981 449h2v1h-2zM1094 326h1v1h-1zM1313 326h2v1h-2zM1114 300h1v2h-1zM1238 300h4v1h-4zM211 515h1v1h-1zM346 515h1v1h-1zM834 515h1v2h-1zM937 515h1v1h-1zM732 455h2v1h-2zM804 454h1v2h-1zM976 455h1v1h-1zM59 490h2v1h-2zM186 490h1v1h-1zM432 490h2v1h-2zM444 490h10v1h-10zM517 490h2v1h-2zM953 490h1v1h-1zM33 502h4v1h-4zM199 502h1v1h-1zM357 502h2v1h-2zM11 495h2v1h-2zM49 495h2v1h-2zM192 495h1v1h-1zM412 495h9v1h-9zM470 495h6v1h-6zM496 495h6v1h-6zM950 495h1v1h-1zM200 503h1v1h-1zM355 503h2v1h-2zM829 503h1v2h-1zM945 503h1v1h-1zM206 510h1v1h-1zM350 509h1v2h-1zM118 479h6v1h-6zM167 479h2v1h-2zM536 479h1v1h-1zM1118 293h1v2h-1zM1162 294h4v1h-4zM1215 294h3v1h-3zM1221 294h3v1h-3zM572 465h3v1h-3zM666 465h3v1h-3zM689 465h4v1h-4zM969 465h1v1h-1zM1088 332h1v1h-1zM1333 332h3v1h-3zM1024 400h1v1h-1zM1019 406h1v2h-1zM546 471h1v1h-1zM1098 322h1v1h-1zM1305 322h2v1h-2zM1122 286h1v2h-1zM1126 286h4v1h-4zM547 470h5v1h-5zM813 470h1v1h-1zM965 470h1v1h-1zM203 506h1v2h-1zM352 507h1v1h-1zM830 505h1v3h-1zM942 507h1v2h-1zM1027 396h1v1h-1zM22 500h6v1h-6zM39 500h2v1h-2zM197 500h1v1h-1zM361 500h3v1h-3zM947 500h1v1h-1zM1110 307h1v2h-1zM1264 308h2v1h-2zM739 451h9v1h-9zM979 451h1v1h-1zM1112 304h1v2h-1zM1256 305h2v1h-2zM1002 429h1v1h-1zM70 485h6v1h-6zM180 485h1v1h-1zM527 485h2v1h-2zM543 473h1v1h-1zM815 473h1v2h-1zM963 473h1v1h-1zM1130 287h4v1h-4zM1108 311h1v2h-1zM1273 312h3v1h-3zM63 488h2v1h-2zM184 488h1v1h-1zM521 488h2v1h-2zM1158 293h4v1h-4zM1218 293h3v1h-3zM201 504h1v1h-1zM354 504h1v1h-1zM944 504h1v2h-1zM1076 345h1v1h-1zM1120 290h1v2h-1zM1142 290h6v1h-6zM1192 297h8v1h-8zM1205 297h3v1h-3zM1229 297h3v1h-3zM1037 389h1v1h-1zM1073 348h1v1h-1zM1068 354h1v1h-1zM1080 341h1v1h-1zM540 476h1v1h-1zM353 505h1v2h-1zM943 506h1v1h-1zM1095 325h1v1h-1zM1311 325h2v1h-2zM1111 306h1v1h-1zM1258 306h3v1h-3zM1170 296h22v1h-22zM1208 296h4v1h-4zM1226 296h3v1h-3zM1102 318h1v1h-1zM1292 318h5v1h-5zM1107 313h1v1h-1zM1276 313h2v1h-2zM205 509h1v1h-1zM831 508h1v2h-1zM941 509h1v1h-1zM1261 307h3v1h-3zM1253 304h3v1h-3zM980 450h1v1h-1zM202 505h1v1h-1zM1031 393h2v1h-2zM552 469h8v1h-8zM966 469h1v1h-1zM706 459h6v1h-6zM726 459h2v1h-2zM973 459h1v1h-1zM988 444h1v1h-1zM1119 292h1v1h-1zM1153 292h5v1h-5zM1003 427h1v2h-1zM1242 301h4v1h-4zM1121 288h1v2h-1zM1138 289h4v1h-4zM1123 285h3v1h-3zM1034 391h2v1h-2zM1103 317h1v1h-1zM1286 317h6v1h-6zM209 513h1v1h-1zM347 513h1v2h-1zM833 513h1v2h-1zM938 513h1v2h-1zM1148 291h5v1h-5zM1089 331h1v1h-1zM1330 331h3v1h-3zM1045 382h1v2h-1zM1113 302h1v2h-1zM1250 303h3v1h-3zM1134 288h4v1h-4zM1072 349h1v1h-1zM734 454h2v1h-2zM977 454h1v1h-1zM1079 342h1v1h-1zM1091 329h1v1h-1zM1322 329h4v1h-4zM1106 314h1v1h-1zM1278 314h2v1h-2zM985 446h1v1h-1zM731 456h1v1h-1zM1016 410h1v2h-1zM1011 417h1v1h-1zM996 437h1v1h-1zM986 445h2v1h-2zM1038 388h2v1h-2zM1086 334h1v1h-1zM1340 334h3v1h-3zM210 514h1v1h-1zM1061 362h1v1h-1zM1081 340h1v1h-1zM541 475h1v1h-1zM816 475h1v1h-1zM962 474h1v2h-1zM728 458h1v1h-1zM806 458h1v1h-1zM974 458h1v1h-1zM204 508h1v1h-1zM351 508h1v1h-1zM1093 327h1v1h-1zM1315 327h3v1h-3zM1049 377h1v1h-1zM212 516h1v1h-1zM345 516h1v1h-1zM1246 302h4v1h-4zM1012 416h1v1h-1zM1000 431h1v2h-1zM995 438h1v1h-1zM1067 355h1v1h-1zM1062 361h1v1h-1zM1092 328h1v1h-1zM1318 328h4v1h-4zM1054 370h1v2h-1zM1065 357h1v1h-1zM1085 335h1v1h-1zM1343 335h3v1h-3zM542 474h1v1h-1zM1077 344h1v1h-1zM1041 386h2v1h-2zM1099 321h1v1h-1zM1303 321h2v1h-2zM1022 402h1v2h-1zM1017 409h1v1h-1zM1096 324h1v1h-1zM1309 324h2v1h-2zM1028 395h2v1h-2zM1025 398h1v2h-1zM1005 425h1v1h-1zM1036 390h1v1h-1zM992 440h2v1h-2zM999 433h1v1h-1zM1074 347h1v1h-1zM1071 350h1v2h-1zM1050 376h1v1h-1zM1066 356h1v1h-1zM1058 365h1v1h-1zM1053 372h1v1h-1zM1104 316h1v1h-1zM1282 316h4v1h-4zM1105 315h1v1h-1zM1280 315h2v1h-2zM1010 418h1v1h-1zM1021 404h1v1h-1zM998 434h1v1h-1zM1009 419h1v2h-1zM1004 426h1v1h-1zM1060 363h1v1h-1zM1055 369h1v1h-1zM1048 378h1v2h-1zM1078 343h1v1h-1zM1043 385h1v1h-1zM1082 339h1v1h-1zM1026 397h1v1h-1zM983 448h1v1h-1zM1014 413h1v1h-1zM990 442h1v1h-1zM1271 311h2v1h-2zM1020 405h1v1h-1zM1013 414h1v2h-1zM1008 421h1v1h-1zM1064 358h1v1h-1zM1059 364h1v1h-1zM1040 387h1v1h-1zM1047 380h1v1h-1zM1063 359h1v2h-1zM991 441h1v1h-1zM1007 422h1v1h-1zM1018 408h1v1h-1zM1033 392h1v1h-1zM989 443h1v1h-1zM1001 430h1v1h-1zM1052 373h1v1h-1zM1075 346h1v1h-1zM1070 352h1v1h-1zM1046 381h1v1h-1zM984 447h1v1h-1zM1015 412h1v1h-1zM1023 401h1v1h-1zM1030 394h1v1h-1z"/>
<path fill="#FF0000" d="M3 115h1867v1h-1867zM3 182h1867v1h-1867zM3 282h1867v1h-1867zM3 348h1867v1h-1867z"/>
<path fill="#FF0000" d="M3 113h5v5h-5zM1865 113h5v5h-5zM3 180h5v5h-5zM1865 180h5v5h-5zM3 280h5v5h-5zM1865 280h5v5h-5zM3 346h5v5h-5zM1865 346h5v5h-5z"/><path fill="#fff" d="M4 114h3v3h-3zM1866 114h3v3h-3zM4 181h3v3h-3zM1866 181h3v3h-3zM4 281h3v3h-3zM1866 281h3v3h-3zM4 347h3v3h-3zM1866 347h3v3h-3z"/>
</g>
<g clip-path="url(#cd)">
<path fill="#0000FF" d="M137 699h2v1h-2zM482 699h10v1h-10zM630 699h6v1h-6zM656 699h4v1h-4zM1236 699h2v1h-2zM1455 699h3v1h-3zM121 688h1v1h-1zM529 688h5v1h-5zM674 688h1v1h-1zM1222 688h1v1h-1zM147 705h1v1h-1zM469 705h2v1h-2zM1245 705h1v1h-1zM1436 705h3v1h-3zM125 691h1v1h-1zM514 691h4v1h-4zM545 691h11v1h-11zM568 691h8v1h-8zM670 691h1v1h-1zM1226 691h1v1h-1zM818 636h1v2h-1zM1070 637h1v1h-1zM70 662h1v1h-1zM754 662h6v1h-6zM1101 662h2v1h-2zM830 611h1v2h-1zM1032 611h2v1h-2zM154 709h2v1h-2zM461 709h2v1h-2zM1251 709h2v1h-2zM1425 709h2v1h-2zM185 728h1v1h-1zM342 728h6v1h-6zM380 728h16v1h-16zM408 728h8v1h-8zM421 728h2v1h-2zM1298 728h4v1h-4zM1378 728h4v1h-4zM30 643h2v1h-2zM42 643h3v1h-3zM813 643h1v2h-1zM1077 643h1v1h-1zM847 584h1v1h-1zM1005 584h1v1h-1zM219 751h2v1h-2zM242 751h10v1h-10zM261 751h3v1h-3zM111 683h3v1h-3zM687 683h3v1h-3zM1208 683h4v1h-4zM124 690h1v1h-1zM518 690h6v1h-6zM540 690h5v1h-5zM556 690h12v1h-12zM671 690h1v1h-1zM1224 690h2v1h-2zM192 733h1v1h-1zM321 733h5v1h-5zM1318 733h6v1h-6zM1344 733h12v1h-12zM899 538h2v1h-2zM938 538h2v1h-2zM183 727h2v1h-2zM348 727h5v1h-5zM364 727h16v1h-16zM396 727h12v1h-12zM423 727h2v1h-2zM1294 727h4v1h-4zM1382 727h4v1h-4zM896 540h2v1h-2zM941 540h2v1h-2zM188 730h1v1h-1zM334 730h4v1h-4zM1306 730h4v1h-4zM1370 730h4v1h-4zM225 754h2v1h-2zM230 754h4v1h-4zM202 740h1v1h-1zM297 740h3v1h-3zM78 668h2v1h-2zM732 668h9v1h-9zM1126 668h4v1h-4zM129 694h2v1h-2zM508 694h2v1h-2zM604 694h10v1h-10zM666 694h1v1h-1zM1230 694h1v1h-1zM93 676h2v1h-2zM713 676h1v1h-1zM1166 676h4v1h-4zM1176 676h8v1h-8zM1189 676h3v1h-3zM911 534h3v1h-3zM924 534h8v1h-8zM104 681h4v1h-4zM696 681h8v1h-8zM1202 681h3v1h-3zM3 661h1v1h-1zM68 661h2v1h-2zM760 661h8v1h-8zM1100 661h1v1h-1zM7 658h2v1h-2zM65 658h1v1h-1zM784 658h20v1h-20zM1094 658h2v1h-2zM833 605h1v2h-1zM1025 606h1v1h-1zM179 724h1v1h-1zM429 724h2v1h-2zM1283 724h3v1h-3zM1394 724h3v1h-3zM14 653h2v1h-2zM59 653h1v1h-1zM806 653h1v2h-1zM1088 653h1v1h-1zM176 722h1v1h-1zM433 722h2v1h-2zM1279 722h2v1h-2zM1399 722h2v1h-2zM28 644h2v1h-2zM45 644h3v1h-3zM1078 644h1v1h-1zM114 684h2v1h-2zM684 684h3v1h-3zM1212 684h3v1h-3zM819 634h1v2h-1zM1066 634h2v1h-2zM884 549h2v1h-2zM959 549h2v1h-2zM829 613h1v2h-1zM1036 613h1v1h-1zM142 702h2v1h-2zM476 702h2v1h-2zM1241 702h1v1h-1zM1445 702h3v1h-3zM850 579h1v2h-1zM1000 580h1v1h-1zM74 665h2v1h-2zM746 665h3v1h-3zM1107 665h5v1h-5zM27 645h1v1h-1zM48 645h2v1h-2zM812 645h1v1h-1zM1079 645h1v1h-1zM843 589h1v2h-1zM1012 590h1v1h-1zM119 687h2v1h-2zM675 687h2v1h-2zM1220 687h2v1h-2zM77 667h1v1h-1zM741 667h3v1h-3zM1120 667h6v1h-6zM83 671h2v1h-2zM720 671h1v1h-1zM1138 671h6v1h-6zM118 686h1v1h-1zM677 686h3v1h-3zM1218 686h2v1h-2zM131 695h1v1h-1zM505 695h3v1h-3zM614 695h4v1h-4zM664 695h2v1h-2zM1231 695h1v1h-1zM10 656h2v1h-2zM62 656h2v1h-2zM804 656h1v2h-1zM1091 656h1v1h-1zM163 714h1v1h-1zM450 714h3v1h-3zM1262 714h2v1h-2zM1415 714h2v1h-2zM95 677h2v1h-2zM711 677h2v1h-2zM1170 677h6v1h-6zM1192 677h2v1h-2zM71 663h2v1h-2zM752 663h2v1h-2zM1103 663h2v1h-2zM136 698h1v1h-1zM492 698h9v1h-9zM626 698h4v1h-4zM660 698h2v1h-2zM1235 698h1v1h-1zM1458 698h1v1h-1zM844 588h1v1h-1zM1010 588h1v1h-1zM208 745h2v1h-2zM282 745h4v1h-4zM19 650h1v1h-1zM56 650h1v1h-1zM809 649h1v2h-1zM1085 650h1v1h-1zM6 659h1v1h-1zM66 659h1v1h-1zM776 659h8v1h-8zM1096 659h2v1h-2zM85 672h2v1h-2zM718 672h2v1h-2zM1144 672h8v1h-8zM186 729h2v1h-2zM338 729h4v1h-4zM416 729h5v1h-5zM1302 729h4v1h-4zM1374 729h4v1h-4zM35 640h2v1h-2zM816 639h1v2h-1zM1074 640h1v1h-1zM140 701h2v1h-2zM478 701h2v1h-2zM641 701h7v1h-7zM1239 701h2v1h-2zM1448 701h4v1h-4zM17 651h2v1h-2zM57 651h1v1h-1zM808 651h1v1h-1zM1086 651h1v1h-1zM852 577h1v1h-1zM996 577h1v1h-1zM159 712h2v1h-2zM455 712h2v1h-2zM1257 712h3v1h-3zM1419 712h2v1h-2zM97 678h2v1h-2zM710 678h1v1h-1zM1194 678h3v1h-3zM213 748h2v1h-2zM271 748h3v1h-3zM855 574h1v1h-1zM993 574h1v1h-1zM20 649h2v1h-2zM54 649h2v1h-2zM1084 649h1v1h-1zM171 719h1v1h-1zM439 719h2v1h-2zM1273 719h2v1h-2zM1405 719h2v1h-2zM164 715h2v1h-2zM448 715h2v1h-2zM1264 715h2v1h-2zM1413 715h2v1h-2zM190 732h2v1h-2zM326 732h4v1h-4zM1314 732h4v1h-4zM1356 732h10v1h-10zM890 545h1v1h-1zM951 545h2v1h-2zM195 735h1v1h-1zM310 735h6v1h-6zM1329 735h7v1h-7zM169 718h2v1h-2zM441 718h3v1h-3zM1271 718h2v1h-2zM1407 718h2v1h-2zM25 646h2v1h-2zM50 646h2v1h-2zM811 646h1v2h-1zM1080 646h1v1h-1zM182 726h1v1h-1zM353 726h11v1h-11zM425 726h2v1h-2zM1290 726h4v1h-4zM1386 726h4v1h-4zM122 689h2v1h-2zM524 689h5v1h-5zM534 689h6v1h-6zM672 689h2v1h-2zM1223 689h1v1h-1zM908 535h3v1h-3zM932 535h2v1h-2zM24 647h1v1h-1zM52 647h1v1h-1zM1081 647h1v1h-1zM841 592h1v2h-1zM1014 592h1v2h-1zM838 596h1v2h-1zM1017 596h1v1h-1zM126 692h2v1h-2zM512 692h2v1h-2zM576 692h12v1h-12zM668 692h2v1h-2zM1227 692h1v1h-1zM898 539h1v1h-1zM940 539h1v1h-1zM822 628h1v2h-1zM1060 629h1v1h-1zM199 738h1v1h-1zM302 738h2v1h-2zM834 603h1v2h-1zM1023 603h1v1h-1zM99 679h2v1h-2zM708 679h2v1h-2zM1197 679h3v1h-3zM869 561h2v1h-2zM979 561h1v1h-1zM1069 636h1v1h-1zM134 697h2v1h-2zM501 697h2v1h-2zM622 697h4v1h-4zM662 697h1v1h-1zM1234 697h1v1h-1zM139 700h1v1h-1zM480 700h2v1h-2zM636 700h5v1h-5zM648 700h8v1h-8zM1238 700h1v1h-1zM1452 700h3v1h-3zM16 652h1v1h-1zM58 652h1v1h-1zM807 652h1v1h-1zM1087 652h1v1h-1zM868 562h1v1h-1zM980 562h1v1h-1zM877 555h1v1h-1zM969 555h2v1h-2zM193 734h2v1h-2zM316 734h5v1h-5zM1324 734h5v1h-5zM1336 734h8v1h-8zM821 630h1v2h-1zM1063 631h1v1h-1zM1024 604h1v2h-1zM80 669h1v1h-1zM723 669h9v1h-9zM1130 669h4v1h-4zM12 655h1v1h-1zM61 655h1v1h-1zM805 655h1v1h-1zM1090 655h1v1h-1zM132 696h2v1h-2zM503 696h2v1h-2zM618 696h4v1h-4zM663 696h1v1h-1zM1232 696h2v1h-2zM817 638h1v1h-1zM1071 638h1v1h-1zM81 670h2v1h-2zM721 670h2v1h-2zM1134 670h4v1h-4zM108 682h3v1h-3zM690 682h6v1h-6zM1205 682h3v1h-3zM180 725h2v1h-2zM427 725h2v1h-2zM1286 725h4v1h-4zM1390 725h4v1h-4zM87 673h2v1h-2zM717 673h1v1h-1zM1152 673h6v1h-6zM177 723h2v1h-2zM431 723h2v1h-2zM1281 723h2v1h-2zM1397 723h2v1h-2zM873 558h1v1h-1zM974 558h2v1h-2zM839 595h1v1h-1zM1016 595h1v1h-1zM166 716h2v1h-2zM446 716h2v1h-2zM1266 716h3v1h-3zM1411 716h2v1h-2zM144 703h1v1h-1zM473 703h3v1h-3zM1242 703h2v1h-2zM1442 703h3v1h-3zM76 666h1v1h-1zM744 666h2v1h-2zM1112 666h8v1h-8zM128 693h1v1h-1zM510 693h2v1h-2zM588 693h16v1h-16zM667 693h1v1h-1zM1228 693h2v1h-2zM4 660h2v1h-2zM67 660h1v1h-1zM768 660h8v1h-8zM1098 660h2v1h-2zM189 731h1v1h-1zM330 731h4v1h-4zM1310 731h4v1h-4zM1366 731h4v1h-4zM157 711h2v1h-2zM457 711h2v1h-2zM1255 711h2v1h-2zM1421 711h2v1h-2zM150 707h2v1h-2zM465 707h2v1h-2zM1248 707h1v1h-1zM1429 707h3v1h-3zM883 550h1v1h-1zM961 550h2v1h-2zM210 746h1v1h-1zM278 746h4v1h-4zM882 551h1v1h-1zM963 551h1v1h-1zM215 749h2v1h-2zM268 749h3v1h-3zM22 648h2v1h-2zM53 648h1v1h-1zM810 648h1v1h-1zM1082 648h2v1h-2zM172 720h2v1h-2zM437 720h2v1h-2zM1275 720h2v1h-2zM1403 720h2v1h-2zM89 674h2v1h-2zM716 674h1v1h-1zM1158 674h4v1h-4zM848 582h1v2h-1zM1004 583h1v1h-1zM204 742h2v1h-2zM293 742h2v1h-2zM891 544h1v1h-1zM949 544h2v1h-2zM1011 589h1v1h-1zM863 567h1v1h-1zM985 567h1v1h-1zM33 641h2v1h-2zM37 641h3v1h-3zM815 641h1v1h-1zM1075 641h1v1h-1zM1002 582h2v1h-2zM860 570h1v1h-1zM989 570h1v1h-1zM91 675h2v1h-2zM714 675h2v1h-2zM1162 675h4v1h-4zM1184 675h5v1h-5zM168 717h1v1h-1zM444 717h2v1h-2zM1269 717h2v1h-2zM1409 717h2v1h-2zM221 752h2v1h-2zM238 752h4v1h-4zM252 752h9v1h-9zM867 563h1v1h-1zM981 563h1v1h-1zM152 708h2v1h-2zM463 708h2v1h-2zM1249 708h2v1h-2zM1427 708h2v1h-2zM156 710h1v1h-1zM459 710h2v1h-2zM1253 710h2v1h-2zM1423 710h2v1h-2zM32 642h1v1h-1zM40 642h2v1h-2zM814 642h1v1h-1zM1076 642h1v1h-1zM227 755h3v1h-3zM161 713h2v1h-2zM453 713h2v1h-2zM1260 713h2v1h-2zM1417 713h2v1h-2zM206 743h1v1h-1zM290 743h3v1h-3zM1034 612h2v1h-2zM878 554h1v1h-1zM968 554h1v1h-1zM836 599h1v2h-1zM1020 600h1v1h-1zM101 680h3v1h-3zM704 680h4v1h-4zM1200 680h2v1h-2zM13 654h1v1h-1zM60 654h1v1h-1zM1089 654h1v1h-1zM1037 614h2v1h-2zM866 564h1v1h-1zM982 564h1v1h-1zM824 624h1v2h-1zM1053 624h1v1h-1zM887 547h1v1h-1zM955 547h2v1h-2zM148 706h2v1h-2zM467 706h2v1h-2zM1246 706h2v1h-2zM1432 706h4v1h-4zM914 533h10v1h-10zM198 737h1v1h-1zM304 737h2v1h-2zM9 657h1v1h-1zM64 657h1v1h-1zM1092 657h2v1h-2zM116 685h2v1h-2zM680 685h4v1h-4zM1215 685h3v1h-3zM888 546h2v1h-2zM953 546h2v1h-2zM1018 597h1v1h-1zM828 615h1v2h-1zM1041 616h2v1h-2zM871 560h1v1h-1zM977 560h2v1h-2zM837 598h1v1h-1zM1019 598h1v2h-1zM200 739h2v1h-2zM300 739h2v1h-2zM174 721h2v1h-2zM435 721h2v1h-2zM1277 721h2v1h-2zM1401 721h2v1h-2zM874 557h2v1h-2zM972 557h2v1h-2zM858 571h2v1h-2zM990 571h1v1h-1zM73 664h1v1h-1zM749 664h3v1h-3zM1105 664h2v1h-2zM879 553h1v1h-1zM966 553h2v1h-2zM145 704h2v1h-2zM471 704h2v1h-2zM1244 704h1v1h-1zM1439 704h3v1h-3zM820 632h1v2h-1zM1065 633h1v1h-1zM880 552h2v1h-2zM964 552h2v1h-2zM827 617h1v3h-1zM1046 619h1v1h-1zM223 753h2v1h-2zM234 753h4v1h-4zM217 750h2v1h-2zM264 750h4v1h-4zM849 581h1v1h-1zM1001 581h1v1h-1zM1039 615h2v1h-2zM876 556h1v1h-1zM971 556h1v1h-1zM825 622h1v2h-1zM1052 623h1v1h-1zM823 626h1v2h-1zM1056 626h1v1h-1zM840 594h1v1h-1zM1015 594h1v1h-1zM1054 625h2v1h-2zM1064 632h1v1h-1zM207 744h1v1h-1zM286 744h4v1h-4zM1050 622h2v1h-2zM1072 639h2v1h-2zM196 736h2v1h-2zM306 736h4v1h-4zM1068 635h1v1h-1zM831 609h1v2h-1zM1028 609h2v1h-2zM872 559h1v1h-1zM976 559h1v1h-1zM862 568h1v1h-1zM986 568h2v1h-2zM861 569h1v1h-1zM988 569h1v1h-1zM854 575h1v1h-1zM994 575h1v1h-1zM865 565h1v1h-1zM983 565h1v1h-1zM832 607h1v2h-1zM1027 608h1v1h-1zM886 548h1v1h-1zM957 548h2v1h-2zM853 576h1v1h-1zM995 576h1v1h-1zM826 620h1v2h-1zM1049 621h1v1h-1zM895 541h1v1h-1zM943 541h2v1h-2zM901 537h3v1h-3zM936 537h2v1h-2zM864 566h1v1h-1zM984 566h1v1h-1zM1044 618h2v1h-2zM1057 627h2v1h-2zM1059 628h1v1h-1zM835 601h1v2h-1zM1021 601h1v1h-1zM1022 602h1v1h-1zM203 741h1v1h-1zM295 741h2v1h-2zM904 536h4v1h-4zM934 536h2v1h-2zM846 585h1v1h-1zM1006 585h1v1h-1zM845 586h1v2h-1zM1008 587h2v1h-2zM1030 610h2v1h-2zM1026 607h1v1h-1zM856 573h1v1h-1zM992 573h1v1h-1zM892 543h2v1h-2zM947 543h2v1h-2zM1043 617h1v1h-1zM1047 620h2v1h-2zM999 579h1v1h-1zM851 578h1v1h-1zM997 578h2v1h-2zM211 747h2v1h-2zM274 747h4v1h-4zM1061 630h2v1h-2zM842 591h1v1h-1zM1013 591h1v1h-1zM1007 586h1v1h-1zM894 542h1v1h-1zM945 542h2v1h-2zM857 572h1v1h-1zM991 572h1v1h-1z"/>
<path fill="#FF0000" d="M242 724h5v1h-5zM453 724h12v1h-12zM1361 724h11v1h-11zM1429 724h12v1h-12zM87 666h8v1h-8zM133 666h9v1h-9zM807 666h8v1h-8zM1195 666h7v1h-7zM886 615h3v1h-3zM1105 615h3v1h-3zM234 720h5v1h-5zM475 720h11v1h-11zM1348 720h8v1h-8zM1455 720h4v1h-4zM953 560h4v1h-4zM1027 560h5v1h-5zM928 578h3v1h-3zM1056 578h4v1h-4zM951 561h5v1h-5zM1029 561h4v1h-4zM933 574h3v1h-3zM1050 574h4v1h-4zM25 693h4v1h-4zM189 693h4v1h-4zM592 693h118v1h-118zM1279 693h6v1h-6zM917 587h4v1h-4zM1068 587h3v1h-3zM41 684h4v1h-4zM174 684h5v1h-5zM741 684h12v1h-12zM1252 684h8v1h-8zM27 692h4v1h-4zM187 692h5v1h-5zM603 692h33v1h-33zM699 692h15v1h-15zM1276 692h6v1h-6zM94 664h40v1h-40zM814 664h6v1h-6zM1188 664h8v1h-8zM248 727h6v1h-6zM437 727h12v1h-12zM1376 727h48v1h-48zM32 689h4v1h-4zM183 689h4v1h-4zM717 689h9v1h-9zM1268 689h6v1h-6zM39 685h5v1h-5zM176 685h4v1h-4zM736 685h12v1h-12zM1255 685h8v1h-8zM299 743h49v1h-49zM949 562h5v1h-5zM1031 562h4v1h-4zM46 681h5v1h-5zM169 681h4v1h-4zM757 681h9v1h-9zM1241 681h9v1h-9zM958 557h5v1h-5zM1019 557h7v1h-7zM265 734h7v1h-7zM391 734h15v1h-15zM244 725h5v1h-5zM448 725h12v1h-12zM1365 725h12v1h-12zM1423 725h13v1h-13zM223 714h4v1h-4zM501 714h9v1h-9zM1332 714h6v1h-6zM52 678h5v1h-5zM163 678h5v1h-5zM769 678h7v1h-7zM1231 678h7v1h-7zM854 640h4v1h-4zM1138 640h4v1h-4zM77 669h8v1h-8zM145 669h6v1h-6zM798 669h7v1h-7zM1204 669h8v1h-8zM216 710h4v1h-4zM517 710h9v1h-9zM1323 710h5v1h-5zM920 585h3v1h-3zM1065 585h4v1h-4zM3 706h2v1h-2zM210 706h4v1h-4zM533 706h9v1h-9zM1313 706h6v1h-6zM821 661h5v1h-5zM1181 661h5v1h-5zM830 656h5v1h-5zM1169 656h6v1h-6zM876 623h3v1h-3zM1115 623h4v1h-4zM44 682h5v1h-5zM171 682h4v1h-4zM752 682h10v1h-10zM1245 682h8v1h-8zM967 553h8v1h-8zM1003 553h10v1h-10zM964 554h8v1h-8zM1008 554h8v1h-8zM827 658h4v1h-4zM1174 658h6v1h-6zM246 726h6v1h-6zM443 726h11v1h-11zM1371 726h17v1h-17zM1415 726h15v1h-15zM8 702h5v1h-5zM203 702h5v1h-5zM549 702h9v1h-9zM1304 702h6v1h-6zM91 665h7v1h-7zM123 665h15v1h-15zM811 665h7v1h-7zM1191 665h8v1h-8zM974 551h30v1h-30zM236 721h5v1h-5zM469 721h12v1h-12zM1351 721h8v1h-8zM1447 721h12v1h-12zM893 609h3v1h-3zM1097 609h3v1h-3zM65 672h9v1h-9zM152 672h5v1h-5zM788 672h8v1h-8zM1214 672h7v1h-7zM35 687h5v1h-5zM179 687h5v1h-5zM725 687h12v1h-12zM1262 687h7v1h-7zM847 645h4v1h-4zM1147 645h4v1h-4zM853 641h3v1h-3zM1139 641h5v1h-5zM232 719h5v1h-5zM480 719h10v1h-10zM1345 719h7v1h-7zM289 741h11v1h-11zM347 741h13v1h-13zM224 715h5v1h-5zM497 715h9v1h-9zM1335 715h6v1h-6zM255 730h6v1h-6zM416 730h16v1h-16zM69 671h9v1h-9zM150 671h5v1h-5zM791 671h8v1h-8zM1211 671h7v1h-7zM226 716h5v1h-5zM493 716h9v1h-9zM1337 716h7v1h-7zM977 550h21v1h-21zM81 668h7v1h-7zM141 668h8v1h-8zM801 668h7v1h-7zM1201 668h7v1h-7zM257 731h7v1h-7zM411 731h13v1h-13zM50 679h5v1h-5zM165 679h5v1h-5zM765 679h8v1h-8zM1233 679h9v1h-9zM883 617h4v1h-4zM1107 617h4v1h-4zM921 584h3v1h-3zM1064 584h4v1h-4zM16 698h4v1h-4zM197 698h4v1h-4zM565 698h12v1h-12zM1294 698h7v1h-7zM218 711h4v1h-4zM513 711h9v1h-9zM1325 711h5v1h-5zM23 694h5v1h-5zM191 694h4v1h-4zM587 694h17v1h-17zM635 694h65v1h-65zM1281 694h7v1h-7zM10 701h5v1h-5zM202 701h4v1h-4zM553 701h9v1h-9zM1302 701h6v1h-6zM30 690h5v1h-5zM184 690h4v1h-4zM713 690h9v1h-9zM1271 690h6v1h-6zM251 728h5v1h-5zM431 728h13v1h-13zM1387 728h29v1h-29zM938 570h4v1h-4zM1043 570h5v1h-5zM14 699h5v1h-5zM199 699h4v1h-4zM561 699h11v1h-11zM1297 699h6v1h-6zM21 695h5v1h-5zM192 695h4v1h-4zM581 695h12v1h-12zM1284 695h8v1h-8zM34 688h4v1h-4zM181 688h4v1h-4zM721 688h11v1h-11zM1265 688h7v1h-7zM862 634h4v1h-4zM1130 634h4v1h-4zM927 579h3v1h-3zM1058 579h3v1h-3zM6 703h5v1h-5zM205 703h4v1h-4zM545 703h9v1h-9zM1307 703h5v1h-5zM937 571h3v1h-3zM1045 571h4v1h-4zM942 567h4v1h-4zM1039 567h4v1h-4zM54 677h6v1h-6zM162 677h4v1h-4zM772 677h8v1h-8zM1228 677h6v1h-6zM901 602h3v1h-3zM1087 602h4v1h-4zM18 697h4v1h-4zM195 697h5v1h-5zM571 697h11v1h-11zM1291 697h7v1h-7zM61 674h5v1h-5zM156 674h5v1h-5zM782 674h7v1h-7zM1220 674h6v1h-6zM4 704h5v1h-5zM207 704h4v1h-4zM541 704h9v1h-9zM1309 704h5v1h-5zM268 735h6v1h-6zM384 735h16v1h-16zM819 662h5v1h-5zM1183 662h6v1h-6zM211 707h5v1h-5zM529 707h9v1h-9zM1316 707h5v1h-5zM97 663h27v1h-27zM817 663h5v1h-5zM1185 663h7v1h-7zM271 736h7v1h-7zM379 736h13v1h-13zM851 642h4v1h-4zM1141 642h5v1h-5zM260 732h6v1h-6zM405 732h12v1h-12zM834 654h4v1h-4zM1165 654h5v1h-5zM238 722h5v1h-5zM464 722h12v1h-12zM1355 722h7v1h-7zM1440 722h16v1h-16zM43 683h4v1h-4zM172 683h5v1h-5zM747 683h11v1h-11zM1249 683h7v1h-7zM285 740h9v1h-9zM352 740h16v1h-16zM823 660h5v1h-5zM1179 660h5v1h-5zM12 700h5v1h-5zM200 700h4v1h-4zM557 700h9v1h-9zM1300 700h5v1h-5zM892 610h3v1h-3zM1098 610h4v1h-4zM48 680h5v1h-5zM167 680h5v1h-5zM761 680h9v1h-9zM1237 680h9v1h-9zM934 573h4v1h-4zM1048 573h4v1h-4zM891 611h3v1h-3zM1099 611h4v1h-4zM293 742h12v1h-12zM341 742h12v1h-12zM59 675h5v1h-5zM158 675h5v1h-5zM779 675h7v1h-7zM1223 675h6v1h-6zM215 709h4v1h-4zM521 709h9v1h-9zM1320 709h6v1h-6zM857 638h3v1h-3zM1135 638h4v1h-4zM19 696h5v1h-5zM194 696h4v1h-4zM576 696h12v1h-12zM1287 696h8v1h-8zM219 712h5v1h-5zM509 712h9v1h-9zM1327 712h6v1h-6zM84 667h8v1h-8zM137 667h9v1h-9zM804 667h8v1h-8zM1198 667h7v1h-7zM213 708h4v1h-4zM525 708h9v1h-9zM1318 708h6v1h-6zM840 650h4v1h-4zM1156 650h5v1h-5zM230 718h5v1h-5zM485 718h9v1h-9zM1343 718h6v1h-6zM924 581h4v1h-4zM1060 581h4v1h-4zM28 691h5v1h-5zM186 691h4v1h-4zM709 691h9v1h-9zM1273 691h7v1h-7zM837 652h4v1h-4zM1160 652h6v1h-6zM914 590h3v1h-3zM1071 590h4v1h-4zM947 563h5v1h-5zM1032 563h4v1h-4zM73 670h9v1h-9zM148 670h5v1h-5zM795 670h7v1h-7zM1207 670h8v1h-8zM905 598h4v1h-4zM1082 598h4v1h-4zM273 737h9v1h-9zM373 737h12v1h-12zM946 564h4v1h-4zM1034 564h4v1h-4zM37 686h5v1h-5zM178 686h4v1h-4zM731 686h11v1h-11zM1259 686h7v1h-7zM943 566h4v1h-4zM1037 566h4v1h-4zM899 604h3v1h-3zM1090 604h4v1h-4zM281 739h9v1h-9zM359 739h15v1h-15zM304 744h38v1h-38zM960 556h5v1h-5zM1015 556h8v1h-8zM867 630h4v1h-4zM1125 630h3v1h-3zM845 646h4v1h-4zM1148 646h5v1h-5zM861 635h3v1h-3zM1131 635h4v1h-4zM3 705h4v1h-4zM208 705h4v1h-4zM537 705h9v1h-9zM1311 705h6v1h-6zM240 723h5v1h-5zM459 723h11v1h-11zM1358 723h8v1h-8zM1435 723h13v1h-13zM929 577h3v1h-3zM1055 577h4v1h-4zM907 597h3v1h-3zM1081 597h3v1h-3zM878 621h4v1h-4zM1113 621h3v1h-3zM56 676h6v1h-6zM160 676h4v1h-4zM775 676h8v1h-8zM1225 676h7v1h-7zM63 673h7v1h-7zM154 673h5v1h-5zM785 673h7v1h-7zM1217 673h7v1h-7zM941 568h3v1h-3zM1040 568h4v1h-4zM221 713h4v1h-4zM505 713h9v1h-9zM1329 713h7v1h-7zM897 606h3v1h-3zM1093 606h3v1h-3zM868 629h4v1h-4zM1123 629h4v1h-4zM910 594h3v1h-3zM1077 594h3v1h-3zM866 631h3v1h-3zM1126 631h4v1h-4zM848 644h4v1h-4zM1145 644h4v1h-4zM887 614h3v1h-3zM1103 614h4v1h-4zM922 583h3v1h-3zM1063 583h3v1h-3zM263 733h6v1h-6zM399 733h13v1h-13zM828 657h5v1h-5zM1172 657h5v1h-5zM835 653h4v1h-4zM1163 653h5v1h-5zM253 729h5v1h-5zM423 729h15v1h-15zM971 552h7v1h-7zM997 552h12v1h-12zM863 633h4v1h-4zM1129 633h3v1h-3zM911 593h3v1h-3zM1075 593h4v1h-4zM884 616h4v1h-4zM1106 616h4v1h-4zM925 580h4v1h-4zM1059 580h4v1h-4zM888 613h4v1h-4zM1102 613h4v1h-4zM956 558h5v1h-5zM1022 558h6v1h-6zM915 589h3v1h-3zM1070 589h4v1h-4zM904 599h4v1h-4zM1083 599h4v1h-4zM930 576h4v1h-4zM1053 576h4v1h-4zM955 559h4v1h-4zM1025 559h5v1h-5zM277 738h9v1h-9zM367 738h13v1h-13zM889 612h4v1h-4zM1101 612h3v1h-3zM844 647h4v1h-4zM1150 647h5v1h-5zM228 717h5v1h-5zM489 717h9v1h-9zM1340 717h6v1h-6zM913 591h3v1h-3zM1073 591h3v1h-3zM919 586h3v1h-3zM1067 586h3v1h-3zM909 595h3v1h-3zM1078 595h4v1h-4zM935 572h4v1h-4zM1047 572h4v1h-4zM939 569h4v1h-4zM1042 569h4v1h-4zM898 605h3v1h-3zM1091 605h4v1h-4zM825 659h4v1h-4zM1176 659h6v1h-6zM873 625h4v1h-4zM1118 625h4v1h-4zM908 596h3v1h-3zM1079 596h4v1h-4zM923 582h3v1h-3zM1062 582h3v1h-3zM912 592h3v1h-3zM1074 592h4v1h-4zM945 565h3v1h-3zM1035 565h5v1h-5zM931 575h4v1h-4zM1051 575h5v1h-5zM916 588h4v1h-4zM1069 588h3v1h-3zM882 618h3v1h-3zM1109 618h3v1h-3zM962 555h6v1h-6zM1012 555h8v1h-8zM832 655h4v1h-4zM1167 655h6v1h-6zM858 637h4v1h-4zM1134 637h4v1h-4zM838 651h4v1h-4zM1158 651h6v1h-6zM870 628h3v1h-3zM1122 628h4v1h-4zM894 608h4v1h-4zM1095 608h4v1h-4zM902 601h3v1h-3zM1086 601h4v1h-4zM875 624h3v1h-3zM1117 624h3v1h-3zM850 643h4v1h-4zM1143 643h5v1h-5zM895 607h4v1h-4zM1094 607h4v1h-4zM859 636h4v1h-4zM1133 636h3v1h-3zM843 648h3v1h-3zM1152 648h5v1h-5zM900 603h3v1h-3zM1089 603h3v1h-3zM841 649h4v1h-4zM1154 649h5v1h-5zM865 632h3v1h-3zM1127 632h4v1h-4zM903 600h3v1h-3zM1085 600h3v1h-3zM872 626h4v1h-4zM1119 626h4v1h-4zM879 620h4v1h-4zM1111 620h4v1h-4zM881 619h3v1h-3zM1110 619h4v1h-4zM871 627h3v1h-3zM1121 627h3v1h-3zM877 622h3v1h-3zM1114 622h4v1h-4zM855 639h4v1h-4zM1137 639h3v1h-3z"/>
<path fill="#FF0000" d="M2 639h2v57h-2zM18 634h2v62h-2zM34 634h2v62h-2zM50 653h2v43h-2zM66 680h2v16h-2zM306 687h2v9h-2zM322 682h2v14h-2zM338 678h2v18h-2zM354 677h2v19h-2zM370 681h2v15h-2zM386 686h2v10h-2zM402 689h2v7h-2zM418 693h2v3h-2zM434 687h2v9h-2zM450 681h2v15h-2zM466 673h2v23h-2zM482 669h2v27h-2zM498 672h2v24h-2zM514 668h2v28h-2zM530 670h2v26h-2zM546 680h2v16h-2zM562 684h2v12h-2zM578 690h2v6h-2zM674 687h2v9h-2zM690 682h2v14h-2zM706 681h2v15h-2zM722 670h2v26h-2zM738 672h2v24h-2zM754 669h2v27h-2zM770 673h2v23h-2zM786 675h2v21h-2zM802 681h2v15h-2zM818 657h2v39h-2zM834 627h2v69h-2zM850 612h2v84h-2zM866 607h2v89h-2zM882 608h2v88h-2zM898 610h2v86h-2zM914 622h2v74h-2zM930 641h2v55h-2zM946 668h2v28h-2zM962 692h2v4h-2zM1394 691h2v5h-2zM1410 681h2v15h-2zM1426 673h2v23h-2zM1442 669h2v27h-2zM1458 668h2v28h-2z"/>
<path fill="#008000" d="M82 696h2v6h-2zM98 696h2v21h-2zM114 696h2v28h-2zM130 696h2v40h-2zM146 696h2v47h-2zM162 696h2v49h-2zM178 696h2v50h-2zM194 696h2v52h-2zM210 696h2v54h-2zM226 696h2v53h-2zM242 696h2v37h-2zM258 696h2v28h-2zM274 696h2v14h-2zM290 696h2v3h-2zM610 696h2v1h-2zM626 696h2v8h-2zM642 696h2v11h-2zM658 696h2v7h-2zM978 696h2v15h-2zM994 696h2v36h-2zM1010 696h2v50h-2zM1026 696h2v65h-2zM1042 696h2v66h-2zM1058 696h2v67h-2zM1074 696h2v66h-2zM1090 696h2v70h-2zM1106 696h2v65h-2zM1122 696h2v52h-2zM1138 696h2v43h-2zM1154 696h2v34h-2zM1170 696h2v29h-2zM1186 696h2v19h-2zM1202 696h2v18h-2zM1218 696h2v19h-2zM1234 696h2v30h-2zM1250 696h2v37h-2zM1266 696h2v39h-2zM1282 696h2v41h-2zM1298 696h2v38h-2zM1314 696h2v36h-2zM1330 696h2v30h-2zM1346 696h2v22h-2zM1362 696h2v13h-2zM1378 696h2v4h-2z"/>
</g>
<path fill="#FF0000" d="M1872 109h41v11h-41zM1872 176h41v11h-41zM1872 276h41v11h-41zM1872 342h41v11h-41z"/>
<path fill="#000" d="M1872 228h41v11h-41z"/>
<g shape-rendering="auto">
<text transform="translate(7.1 14) scale(0.925 1)">GBPUSD,H4</text>
<text transform="translate(67.1 14) scale(0.919 1)">1.22720 1.22752 1.22694 1.22731</text>
<text transform="translate(6.9 533) scale(0.945 1)">MACD(12,26,9)</text>
<text transform="translate(76.1 533) scale(0.921 1)">-0.000056 -0.000907 0.001106 0.000000</text>
<text transform="translate(1876.3 24) scale(0.9 1)">1.24335</text>
<text transform="translate(1876.3 57) scale(0.9 1)">1.24085</text>
<text transform="translate(1876.3 90) scale(0.9 1)">1.23840</text>
<text transform="translate(1876.3 123) scale(0.9 1)">1.23590</text>
<text transform="translate(1876.3 156) scale(0.9 1)">1.23340</text>
<text transform="translate(1876.3 189) scale(0.9 1)">1.23090</text>
<text transform="translate(1876.3 222) scale(0.9 1)">1.22845</text>
<text transform="translate(1876.3 255) scale(0.9 1)">1.22595</text>
<text transform="translate(1876.3 288) scale(0.9 1)">1.22350</text>
<text transform="translate(1876.3 321) scale(0.9 1)">1.22100</text>
<text transform="translate(1876.3 354) scale(0.9 1)">1.21850</text>
<text transform="translate(1876.3 387) scale(0.9 1)">1.21600</text>
<text transform="translate(1876.3 420) scale(0.9 1)">1.21355</text>
<text transform="translate(1876.3 453) scale(0.9 1)">1.21105</text>
<text transform="translate(1876.3 486) scale(0.9 1)">1.20855</text>
<text transform="translate(1876.3 519) scale(0.9 1)">1.20610</text>
</g>
<path fill="#FF0000" d="M1872 109h41v11h-41zM1872 176h41v11h-41zM1872 276h41v11h-41zM1872 342h41v11h-41z"/>
<path fill="#000" d="M1872 228h41v11h-41z"/>
<g shape-rendering="auto">
<text class="w" transform="translate(1876.5 118) scale(0.9 1)">1.23618</text>
<text class="w" transform="translate(1876.5 185) scale(0.9 1)">1.23115</text>
<text class="w" transform="translate(1876.5 285) scale(0.9 1)">1.22367</text>
<text class="w" transform="translate(1876.5 351) scale(0.9 1)">1.21864</text>
<text class="w" transform="translate(1876.5 237) scale(0.9 1)">1.22731</text>
<text transform="translate(1874 531) scale(0.912 1)">0.006789</text>
<text transform="translate(1874.2 700) scale(0.912 1)">0.00</text>
<text transform="translate(1874.2 774.5) scale(0.915 1)">-0.003115</text>
<text transform="translate(2 790) scale(0.932 1)">24 Oct 2023</text>
<text transform="translate(66 790) scale(0.932 1)">24 Oct 16:00</text>
<text transform="translate(130 790) scale(0.932 1)">25 Oct 08:00</text>
<text transform="translate(194 790) scale(0.932 1)">26 Oct 00:00</text>
<text transform="translate(258 790) scale(0.932 1)">26 Oct 16:00</text>
<text transform="translate(322 790) scale(0.932 1)">27 Oct 08:00</text>
<text transform="translate(386 790) scale(0.932 1)">30 Oct 00:00</text>
<text transform="translate(450 790) scale(0.932 1)">30 Oct 16:00</text>
<text transform="translate(514 790) scale(0.932 1)">31 Oct 08:00</text>
<text transform="translate(578 790) scale(0.932 1)">1 Nov 00:00</text>
<text transform="translate(642 790) scale(0.932 1)">1 Nov 16:00</text>
<text transform="translate(706 790) scale(0.932 1)">2 Nov 08:00</text>
<text transform="translate(770 790) scale(0.932 1)">3 Nov 00:00</text>
<text transform="translate(834 790) scale(0.932 1)">3 Nov 16:00</text>
<text transform="translate(898 790) scale(0.932 1)">6 Nov 08:00</text>
<text transform="translate(962 790) scale(0.932 1)">7 Nov 00:00</text>
<text transform="translate(1026 790) scale(0.932 1)">7 Nov 16:00</text>
<text transform="translate(1090 790) scale(0.932 1)">8 Nov 08:00</text>
<text transform="translate(1154 790) scale(0.932 1)">9 Nov 00:00</text>
<text transform="translate(1218 790) scale(0.932 1)">9 Nov 16:00</text>
<text transform="translate(1282 790) scale(0.932 1)">10 Nov 08:00</text>
<text transform="translate(1346 790) scale(0.932 1)">13 Nov 00:00</text>
<text transform="translate(1410 790) scale(0.932 1)">13 Nov 16:00</text>
</g>
</svg>
</body></html>
